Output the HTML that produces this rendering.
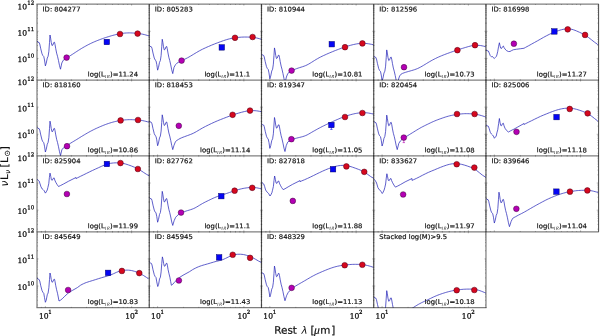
<!DOCTYPE html>
<html lang="en"><head><meta charset="utf-8"><title>SED fits</title>
<style>
html,body{margin:0;padding:0;background:#fff;}
body{width:600px;height:336px;overflow:hidden;}
svg{display:block;will-change:transform;}
text{text-rendering:geometricPrecision;}
.s{font-family:"DejaVu Sans","Liberation Sans",sans-serif;fill:#111;stroke:#111;stroke-width:.2;}
.t{font-size:6.85px;}
.sb{font-size:4.9px;stroke-width:0;letter-spacing:.3px;fill:#333;}
.k{font-family:"DejaVu Serif","Liberation Serif",serif;font-size:7.3px;fill:#111;stroke:#111;stroke-width:.26;}
.ks{font-size:5.3px;}
.i{font-family:"Liberation Serif","DejaVu Serif",serif;font-style:italic;}
.ax{font-size:10.4px;}
.j{font-family:"DejaVu Sans","Liberation Sans",sans-serif;font-style:italic;stroke-width:0;}
.fr{fill:none;stroke:#000;stroke-width:1.25;stroke-opacity:.5;}
.fv{stroke-width:1.15;stroke-opacity:.7;}
.tk{stroke:#000;stroke-width:.55;stroke-opacity:.5;fill:none;}
.cv{fill:none;stroke:#2828b8;stroke-width:.8;stroke-opacity:.93;stroke-linejoin:round;}
.mm{fill:#b400b4;stroke:#30002c;stroke-width:.45;}
.mr{fill:#d6081e;stroke:#4a0018;stroke-width:.5;}
.mb{fill:#0505f5;stroke:#000060;stroke-width:.45;}
.em{stroke:#b400b4;stroke-width:.6;fill:none;}
.eb{stroke:#0505f5;stroke-width:.6;fill:none;}
</style></head><body>
<svg width="600" height="336" viewBox="0 0 600 336">
<rect x="0" y="0" width="600" height="336" fill="#fff"/>
<defs>
<clipPath id="c00"><rect x="37" y="4.15" width="112.24" height="75.88"/></clipPath>
<clipPath id="c01"><rect x="149.24" y="4.15" width="112.24" height="75.88"/></clipPath>
<clipPath id="c02"><rect x="261.48" y="4.15" width="112.24" height="75.88"/></clipPath>
<clipPath id="c03"><rect x="373.72" y="4.15" width="112.24" height="75.88"/></clipPath>
<clipPath id="c04"><rect x="485.96" y="4.15" width="112.24" height="75.88"/></clipPath>
<clipPath id="c10"><rect x="37" y="80.03" width="112.24" height="75.88"/></clipPath>
<clipPath id="c11"><rect x="149.24" y="80.03" width="112.24" height="75.88"/></clipPath>
<clipPath id="c12"><rect x="261.48" y="80.03" width="112.24" height="75.88"/></clipPath>
<clipPath id="c13"><rect x="373.72" y="80.03" width="112.24" height="75.88"/></clipPath>
<clipPath id="c14"><rect x="485.96" y="80.03" width="112.24" height="75.88"/></clipPath>
<clipPath id="c20"><rect x="37" y="155.9" width="112.24" height="75.88"/></clipPath>
<clipPath id="c21"><rect x="149.24" y="155.9" width="112.24" height="75.88"/></clipPath>
<clipPath id="c22"><rect x="261.48" y="155.9" width="112.24" height="75.88"/></clipPath>
<clipPath id="c23"><rect x="373.72" y="155.9" width="112.24" height="75.88"/></clipPath>
<clipPath id="c24"><rect x="485.96" y="155.9" width="112.24" height="75.88"/></clipPath>
<clipPath id="c30"><rect x="37" y="231.78" width="112.24" height="75.88"/></clipPath>
<clipPath id="c31"><rect x="149.24" y="231.78" width="112.24" height="75.88"/></clipPath>
<clipPath id="c32"><rect x="261.48" y="231.78" width="112.24" height="75.88"/></clipPath>
<clipPath id="c33"><rect x="373.72" y="231.78" width="112.24" height="75.88"/></clipPath>
</defs>
<path class="tk" d="M45.36 4.15v1.5 M45.36 80.03v-1.5 M131.63 4.15v1.5 M131.63 80.03v-1.5 M37 4.15v0.8 M37 80.03v-0.8 M41.41 4.15v0.8 M41.41 80.03v-0.8 M71.33 4.15v0.8 M71.33 80.03v-0.8 M86.52 4.15v0.8 M86.52 80.03v-0.8 M97.3 4.15v0.8 M97.3 80.03v-0.8 M105.66 4.15v0.8 M105.66 80.03v-0.8 M112.49 4.15v0.8 M112.49 80.03v-0.8 M118.27 4.15v0.8 M118.27 80.03v-0.8 M123.27 4.15v0.8 M123.27 80.03v-0.8 M127.68 4.15v0.8 M127.68 80.03v-0.8 M37 58.43h1.5 M149.24 58.43h-1.5 M37 31.29h1.5 M149.24 31.29h-1.5 M37 77.4h0.8 M149.24 77.4h-0.8 M37 72.62h0.8 M149.24 72.62h-0.8 M37 69.23h0.8 M149.24 69.23h-0.8 M37 66.6h0.8 M149.24 66.6h-0.8 M37 64.45h0.8 M149.24 64.45h-0.8 M37 62.63h0.8 M149.24 62.63h-0.8 M37 61.06h0.8 M149.24 61.06h-0.8 M37 59.67h0.8 M149.24 59.67h-0.8 M37 50.26h0.8 M149.24 50.26h-0.8 M37 45.48h0.8 M149.24 45.48h-0.8 M37 42.09h0.8 M149.24 42.09h-0.8 M37 39.46h0.8 M149.24 39.46h-0.8 M37 37.31h0.8 M149.24 37.31h-0.8 M37 35.49h0.8 M149.24 35.49h-0.8 M37 33.92h0.8 M149.24 33.92h-0.8 M37 32.53h0.8 M149.24 32.53h-0.8 M37 23.12h0.8 M149.24 23.12h-0.8 M37 18.34h0.8 M149.24 18.34h-0.8 M37 14.95h0.8 M149.24 14.95h-0.8 M37 12.32h0.8 M149.24 12.32h-0.8 M37 10.17h0.8 M149.24 10.17h-0.8 M37 8.35h0.8 M149.24 8.35h-0.8 M37 6.78h0.8 M149.24 6.78h-0.8 M37 5.39h0.8 M149.24 5.39h-0.8"/>
<path class="tk" d="M157.6 4.15v1.5 M157.6 80.03v-1.5 M243.87 4.15v1.5 M243.87 80.03v-1.5 M149.24 4.15v0.8 M149.24 80.03v-0.8 M153.65 4.15v0.8 M153.65 80.03v-0.8 M183.57 4.15v0.8 M183.57 80.03v-0.8 M198.76 4.15v0.8 M198.76 80.03v-0.8 M209.54 4.15v0.8 M209.54 80.03v-0.8 M217.9 4.15v0.8 M217.9 80.03v-0.8 M224.73 4.15v0.8 M224.73 80.03v-0.8 M230.51 4.15v0.8 M230.51 80.03v-0.8 M235.51 4.15v0.8 M235.51 80.03v-0.8 M239.92 4.15v0.8 M239.92 80.03v-0.8 M149.24 58.43h1.5 M261.48 58.43h-1.5 M149.24 31.29h1.5 M261.48 31.29h-1.5 M149.24 77.4h0.8 M261.48 77.4h-0.8 M149.24 72.62h0.8 M261.48 72.62h-0.8 M149.24 69.23h0.8 M261.48 69.23h-0.8 M149.24 66.6h0.8 M261.48 66.6h-0.8 M149.24 64.45h0.8 M261.48 64.45h-0.8 M149.24 62.63h0.8 M261.48 62.63h-0.8 M149.24 61.06h0.8 M261.48 61.06h-0.8 M149.24 59.67h0.8 M261.48 59.67h-0.8 M149.24 50.26h0.8 M261.48 50.26h-0.8 M149.24 45.48h0.8 M261.48 45.48h-0.8 M149.24 42.09h0.8 M261.48 42.09h-0.8 M149.24 39.46h0.8 M261.48 39.46h-0.8 M149.24 37.31h0.8 M261.48 37.31h-0.8 M149.24 35.49h0.8 M261.48 35.49h-0.8 M149.24 33.92h0.8 M261.48 33.92h-0.8 M149.24 32.53h0.8 M261.48 32.53h-0.8 M149.24 23.12h0.8 M261.48 23.12h-0.8 M149.24 18.34h0.8 M261.48 18.34h-0.8 M149.24 14.95h0.8 M261.48 14.95h-0.8 M149.24 12.32h0.8 M261.48 12.32h-0.8 M149.24 10.17h0.8 M261.48 10.17h-0.8 M149.24 8.35h0.8 M261.48 8.35h-0.8 M149.24 6.78h0.8 M261.48 6.78h-0.8 M149.24 5.39h0.8 M261.48 5.39h-0.8"/>
<path class="tk" d="M269.84 4.15v1.5 M269.84 80.03v-1.5 M356.11 4.15v1.5 M356.11 80.03v-1.5 M261.48 4.15v0.8 M261.48 80.03v-0.8 M265.89 4.15v0.8 M265.89 80.03v-0.8 M295.81 4.15v0.8 M295.81 80.03v-0.8 M311 4.15v0.8 M311 80.03v-0.8 M321.78 4.15v0.8 M321.78 80.03v-0.8 M330.14 4.15v0.8 M330.14 80.03v-0.8 M336.97 4.15v0.8 M336.97 80.03v-0.8 M342.75 4.15v0.8 M342.75 80.03v-0.8 M347.75 4.15v0.8 M347.75 80.03v-0.8 M352.16 4.15v0.8 M352.16 80.03v-0.8 M261.48 58.43h1.5 M373.72 58.43h-1.5 M261.48 31.29h1.5 M373.72 31.29h-1.5 M261.48 77.4h0.8 M373.72 77.4h-0.8 M261.48 72.62h0.8 M373.72 72.62h-0.8 M261.48 69.23h0.8 M373.72 69.23h-0.8 M261.48 66.6h0.8 M373.72 66.6h-0.8 M261.48 64.45h0.8 M373.72 64.45h-0.8 M261.48 62.63h0.8 M373.72 62.63h-0.8 M261.48 61.06h0.8 M373.72 61.06h-0.8 M261.48 59.67h0.8 M373.72 59.67h-0.8 M261.48 50.26h0.8 M373.72 50.26h-0.8 M261.48 45.48h0.8 M373.72 45.48h-0.8 M261.48 42.09h0.8 M373.72 42.09h-0.8 M261.48 39.46h0.8 M373.72 39.46h-0.8 M261.48 37.31h0.8 M373.72 37.31h-0.8 M261.48 35.49h0.8 M373.72 35.49h-0.8 M261.48 33.92h0.8 M373.72 33.92h-0.8 M261.48 32.53h0.8 M373.72 32.53h-0.8 M261.48 23.12h0.8 M373.72 23.12h-0.8 M261.48 18.34h0.8 M373.72 18.34h-0.8 M261.48 14.95h0.8 M373.72 14.95h-0.8 M261.48 12.32h0.8 M373.72 12.32h-0.8 M261.48 10.17h0.8 M373.72 10.17h-0.8 M261.48 8.35h0.8 M373.72 8.35h-0.8 M261.48 6.78h0.8 M373.72 6.78h-0.8 M261.48 5.39h0.8 M373.72 5.39h-0.8"/>
<path class="tk" d="M382.08 4.15v1.5 M382.08 80.03v-1.5 M468.35 4.15v1.5 M468.35 80.03v-1.5 M373.72 4.15v0.8 M373.72 80.03v-0.8 M378.13 4.15v0.8 M378.13 80.03v-0.8 M408.05 4.15v0.8 M408.05 80.03v-0.8 M423.24 4.15v0.8 M423.24 80.03v-0.8 M434.02 4.15v0.8 M434.02 80.03v-0.8 M442.38 4.15v0.8 M442.38 80.03v-0.8 M449.21 4.15v0.8 M449.21 80.03v-0.8 M454.99 4.15v0.8 M454.99 80.03v-0.8 M459.99 4.15v0.8 M459.99 80.03v-0.8 M464.4 4.15v0.8 M464.4 80.03v-0.8 M373.72 58.43h1.5 M485.96 58.43h-1.5 M373.72 31.29h1.5 M485.96 31.29h-1.5 M373.72 77.4h0.8 M485.96 77.4h-0.8 M373.72 72.62h0.8 M485.96 72.62h-0.8 M373.72 69.23h0.8 M485.96 69.23h-0.8 M373.72 66.6h0.8 M485.96 66.6h-0.8 M373.72 64.45h0.8 M485.96 64.45h-0.8 M373.72 62.63h0.8 M485.96 62.63h-0.8 M373.72 61.06h0.8 M485.96 61.06h-0.8 M373.72 59.67h0.8 M485.96 59.67h-0.8 M373.72 50.26h0.8 M485.96 50.26h-0.8 M373.72 45.48h0.8 M485.96 45.48h-0.8 M373.72 42.09h0.8 M485.96 42.09h-0.8 M373.72 39.46h0.8 M485.96 39.46h-0.8 M373.72 37.31h0.8 M485.96 37.31h-0.8 M373.72 35.49h0.8 M485.96 35.49h-0.8 M373.72 33.92h0.8 M485.96 33.92h-0.8 M373.72 32.53h0.8 M485.96 32.53h-0.8 M373.72 23.12h0.8 M485.96 23.12h-0.8 M373.72 18.34h0.8 M485.96 18.34h-0.8 M373.72 14.95h0.8 M485.96 14.95h-0.8 M373.72 12.32h0.8 M485.96 12.32h-0.8 M373.72 10.17h0.8 M485.96 10.17h-0.8 M373.72 8.35h0.8 M485.96 8.35h-0.8 M373.72 6.78h0.8 M485.96 6.78h-0.8 M373.72 5.39h0.8 M485.96 5.39h-0.8"/>
<path class="tk" d="M494.32 4.15v1.5 M494.32 80.03v-1.5 M580.59 4.15v1.5 M580.59 80.03v-1.5 M485.96 4.15v0.8 M485.96 80.03v-0.8 M490.37 4.15v0.8 M490.37 80.03v-0.8 M520.29 4.15v0.8 M520.29 80.03v-0.8 M535.48 4.15v0.8 M535.48 80.03v-0.8 M546.26 4.15v0.8 M546.26 80.03v-0.8 M554.62 4.15v0.8 M554.62 80.03v-0.8 M561.45 4.15v0.8 M561.45 80.03v-0.8 M567.23 4.15v0.8 M567.23 80.03v-0.8 M572.23 4.15v0.8 M572.23 80.03v-0.8 M576.64 4.15v0.8 M576.64 80.03v-0.8 M485.96 58.43h1.5 M598.2 58.43h-1.5 M485.96 31.29h1.5 M598.2 31.29h-1.5 M485.96 77.4h0.8 M598.2 77.4h-0.8 M485.96 72.62h0.8 M598.2 72.62h-0.8 M485.96 69.23h0.8 M598.2 69.23h-0.8 M485.96 66.6h0.8 M598.2 66.6h-0.8 M485.96 64.45h0.8 M598.2 64.45h-0.8 M485.96 62.63h0.8 M598.2 62.63h-0.8 M485.96 61.06h0.8 M598.2 61.06h-0.8 M485.96 59.67h0.8 M598.2 59.67h-0.8 M485.96 50.26h0.8 M598.2 50.26h-0.8 M485.96 45.48h0.8 M598.2 45.48h-0.8 M485.96 42.09h0.8 M598.2 42.09h-0.8 M485.96 39.46h0.8 M598.2 39.46h-0.8 M485.96 37.31h0.8 M598.2 37.31h-0.8 M485.96 35.49h0.8 M598.2 35.49h-0.8 M485.96 33.92h0.8 M598.2 33.92h-0.8 M485.96 32.53h0.8 M598.2 32.53h-0.8 M485.96 23.12h0.8 M598.2 23.12h-0.8 M485.96 18.34h0.8 M598.2 18.34h-0.8 M485.96 14.95h0.8 M598.2 14.95h-0.8 M485.96 12.32h0.8 M598.2 12.32h-0.8 M485.96 10.17h0.8 M598.2 10.17h-0.8 M485.96 8.35h0.8 M598.2 8.35h-0.8 M485.96 6.78h0.8 M598.2 6.78h-0.8 M485.96 5.39h0.8 M598.2 5.39h-0.8"/>
<path class="tk" d="M45.36 80.03v1.5 M45.36 155.9v-1.5 M131.63 80.03v1.5 M131.63 155.9v-1.5 M37 80.03v0.8 M37 155.9v-0.8 M41.41 80.03v0.8 M41.41 155.9v-0.8 M71.33 80.03v0.8 M71.33 155.9v-0.8 M86.52 80.03v0.8 M86.52 155.9v-0.8 M97.3 80.03v0.8 M97.3 155.9v-0.8 M105.66 80.03v0.8 M105.66 155.9v-0.8 M112.49 80.03v0.8 M112.49 155.9v-0.8 M118.27 80.03v0.8 M118.27 155.9v-0.8 M123.27 80.03v0.8 M123.27 155.9v-0.8 M127.68 80.03v0.8 M127.68 155.9v-0.8 M37 134.3h1.5 M149.24 134.3h-1.5 M37 107.16h1.5 M149.24 107.16h-1.5 M37 153.27h0.8 M149.24 153.27h-0.8 M37 148.49h0.8 M149.24 148.49h-0.8 M37 145.1h0.8 M149.24 145.1h-0.8 M37 142.47h0.8 M149.24 142.47h-0.8 M37 140.32h0.8 M149.24 140.32h-0.8 M37 138.51h0.8 M149.24 138.51h-0.8 M37 136.93h0.8 M149.24 136.93h-0.8 M37 135.54h0.8 M149.24 135.54h-0.8 M37 126.13h0.8 M149.24 126.13h-0.8 M37 121.35h0.8 M149.24 121.35h-0.8 M37 117.96h0.8 M149.24 117.96h-0.8 M37 115.33h0.8 M149.24 115.33h-0.8 M37 113.18h0.8 M149.24 113.18h-0.8 M37 111.37h0.8 M149.24 111.37h-0.8 M37 109.79h0.8 M149.24 109.79h-0.8 M37 108.4h0.8 M149.24 108.4h-0.8 M37 98.99h0.8 M149.24 98.99h-0.8 M37 94.21h0.8 M149.24 94.21h-0.8 M37 90.82h0.8 M149.24 90.82h-0.8 M37 88.19h0.8 M149.24 88.19h-0.8 M37 86.05h0.8 M149.24 86.05h-0.8 M37 84.23h0.8 M149.24 84.23h-0.8 M37 82.65h0.8 M149.24 82.65h-0.8 M37 81.27h0.8 M149.24 81.27h-0.8"/>
<path class="tk" d="M157.6 80.03v1.5 M157.6 155.9v-1.5 M243.87 80.03v1.5 M243.87 155.9v-1.5 M149.24 80.03v0.8 M149.24 155.9v-0.8 M153.65 80.03v0.8 M153.65 155.9v-0.8 M183.57 80.03v0.8 M183.57 155.9v-0.8 M198.76 80.03v0.8 M198.76 155.9v-0.8 M209.54 80.03v0.8 M209.54 155.9v-0.8 M217.9 80.03v0.8 M217.9 155.9v-0.8 M224.73 80.03v0.8 M224.73 155.9v-0.8 M230.51 80.03v0.8 M230.51 155.9v-0.8 M235.51 80.03v0.8 M235.51 155.9v-0.8 M239.92 80.03v0.8 M239.92 155.9v-0.8 M149.24 134.3h1.5 M261.48 134.3h-1.5 M149.24 107.16h1.5 M261.48 107.16h-1.5 M149.24 153.27h0.8 M261.48 153.27h-0.8 M149.24 148.49h0.8 M261.48 148.49h-0.8 M149.24 145.1h0.8 M261.48 145.1h-0.8 M149.24 142.47h0.8 M261.48 142.47h-0.8 M149.24 140.32h0.8 M261.48 140.32h-0.8 M149.24 138.51h0.8 M261.48 138.51h-0.8 M149.24 136.93h0.8 M261.48 136.93h-0.8 M149.24 135.54h0.8 M261.48 135.54h-0.8 M149.24 126.13h0.8 M261.48 126.13h-0.8 M149.24 121.35h0.8 M261.48 121.35h-0.8 M149.24 117.96h0.8 M261.48 117.96h-0.8 M149.24 115.33h0.8 M261.48 115.33h-0.8 M149.24 113.18h0.8 M261.48 113.18h-0.8 M149.24 111.37h0.8 M261.48 111.37h-0.8 M149.24 109.79h0.8 M261.48 109.79h-0.8 M149.24 108.4h0.8 M261.48 108.4h-0.8 M149.24 98.99h0.8 M261.48 98.99h-0.8 M149.24 94.21h0.8 M261.48 94.21h-0.8 M149.24 90.82h0.8 M261.48 90.82h-0.8 M149.24 88.19h0.8 M261.48 88.19h-0.8 M149.24 86.05h0.8 M261.48 86.05h-0.8 M149.24 84.23h0.8 M261.48 84.23h-0.8 M149.24 82.65h0.8 M261.48 82.65h-0.8 M149.24 81.27h0.8 M261.48 81.27h-0.8"/>
<path class="tk" d="M269.84 80.03v1.5 M269.84 155.9v-1.5 M356.11 80.03v1.5 M356.11 155.9v-1.5 M261.48 80.03v0.8 M261.48 155.9v-0.8 M265.89 80.03v0.8 M265.89 155.9v-0.8 M295.81 80.03v0.8 M295.81 155.9v-0.8 M311 80.03v0.8 M311 155.9v-0.8 M321.78 80.03v0.8 M321.78 155.9v-0.8 M330.14 80.03v0.8 M330.14 155.9v-0.8 M336.97 80.03v0.8 M336.97 155.9v-0.8 M342.75 80.03v0.8 M342.75 155.9v-0.8 M347.75 80.03v0.8 M347.75 155.9v-0.8 M352.16 80.03v0.8 M352.16 155.9v-0.8 M261.48 134.3h1.5 M373.72 134.3h-1.5 M261.48 107.16h1.5 M373.72 107.16h-1.5 M261.48 153.27h0.8 M373.72 153.27h-0.8 M261.48 148.49h0.8 M373.72 148.49h-0.8 M261.48 145.1h0.8 M373.72 145.1h-0.8 M261.48 142.47h0.8 M373.72 142.47h-0.8 M261.48 140.32h0.8 M373.72 140.32h-0.8 M261.48 138.51h0.8 M373.72 138.51h-0.8 M261.48 136.93h0.8 M373.72 136.93h-0.8 M261.48 135.54h0.8 M373.72 135.54h-0.8 M261.48 126.13h0.8 M373.72 126.13h-0.8 M261.48 121.35h0.8 M373.72 121.35h-0.8 M261.48 117.96h0.8 M373.72 117.96h-0.8 M261.48 115.33h0.8 M373.72 115.33h-0.8 M261.48 113.18h0.8 M373.72 113.18h-0.8 M261.48 111.37h0.8 M373.72 111.37h-0.8 M261.48 109.79h0.8 M373.72 109.79h-0.8 M261.48 108.4h0.8 M373.72 108.4h-0.8 M261.48 98.99h0.8 M373.72 98.99h-0.8 M261.48 94.21h0.8 M373.72 94.21h-0.8 M261.48 90.82h0.8 M373.72 90.82h-0.8 M261.48 88.19h0.8 M373.72 88.19h-0.8 M261.48 86.05h0.8 M373.72 86.05h-0.8 M261.48 84.23h0.8 M373.72 84.23h-0.8 M261.48 82.65h0.8 M373.72 82.65h-0.8 M261.48 81.27h0.8 M373.72 81.27h-0.8"/>
<path class="tk" d="M382.08 80.03v1.5 M382.08 155.9v-1.5 M468.35 80.03v1.5 M468.35 155.9v-1.5 M373.72 80.03v0.8 M373.72 155.9v-0.8 M378.13 80.03v0.8 M378.13 155.9v-0.8 M408.05 80.03v0.8 M408.05 155.9v-0.8 M423.24 80.03v0.8 M423.24 155.9v-0.8 M434.02 80.03v0.8 M434.02 155.9v-0.8 M442.38 80.03v0.8 M442.38 155.9v-0.8 M449.21 80.03v0.8 M449.21 155.9v-0.8 M454.99 80.03v0.8 M454.99 155.9v-0.8 M459.99 80.03v0.8 M459.99 155.9v-0.8 M464.4 80.03v0.8 M464.4 155.9v-0.8 M373.72 134.3h1.5 M485.96 134.3h-1.5 M373.72 107.16h1.5 M485.96 107.16h-1.5 M373.72 153.27h0.8 M485.96 153.27h-0.8 M373.72 148.49h0.8 M485.96 148.49h-0.8 M373.72 145.1h0.8 M485.96 145.1h-0.8 M373.72 142.47h0.8 M485.96 142.47h-0.8 M373.72 140.32h0.8 M485.96 140.32h-0.8 M373.72 138.51h0.8 M485.96 138.51h-0.8 M373.72 136.93h0.8 M485.96 136.93h-0.8 M373.72 135.54h0.8 M485.96 135.54h-0.8 M373.72 126.13h0.8 M485.96 126.13h-0.8 M373.72 121.35h0.8 M485.96 121.35h-0.8 M373.72 117.96h0.8 M485.96 117.96h-0.8 M373.72 115.33h0.8 M485.96 115.33h-0.8 M373.72 113.18h0.8 M485.96 113.18h-0.8 M373.72 111.37h0.8 M485.96 111.37h-0.8 M373.72 109.79h0.8 M485.96 109.79h-0.8 M373.72 108.4h0.8 M485.96 108.4h-0.8 M373.72 98.99h0.8 M485.96 98.99h-0.8 M373.72 94.21h0.8 M485.96 94.21h-0.8 M373.72 90.82h0.8 M485.96 90.82h-0.8 M373.72 88.19h0.8 M485.96 88.19h-0.8 M373.72 86.05h0.8 M485.96 86.05h-0.8 M373.72 84.23h0.8 M485.96 84.23h-0.8 M373.72 82.65h0.8 M485.96 82.65h-0.8 M373.72 81.27h0.8 M485.96 81.27h-0.8"/>
<path class="tk" d="M494.32 80.03v1.5 M494.32 155.9v-1.5 M580.59 80.03v1.5 M580.59 155.9v-1.5 M485.96 80.03v0.8 M485.96 155.9v-0.8 M490.37 80.03v0.8 M490.37 155.9v-0.8 M520.29 80.03v0.8 M520.29 155.9v-0.8 M535.48 80.03v0.8 M535.48 155.9v-0.8 M546.26 80.03v0.8 M546.26 155.9v-0.8 M554.62 80.03v0.8 M554.62 155.9v-0.8 M561.45 80.03v0.8 M561.45 155.9v-0.8 M567.23 80.03v0.8 M567.23 155.9v-0.8 M572.23 80.03v0.8 M572.23 155.9v-0.8 M576.64 80.03v0.8 M576.64 155.9v-0.8 M485.96 134.3h1.5 M598.2 134.3h-1.5 M485.96 107.16h1.5 M598.2 107.16h-1.5 M485.96 153.27h0.8 M598.2 153.27h-0.8 M485.96 148.49h0.8 M598.2 148.49h-0.8 M485.96 145.1h0.8 M598.2 145.1h-0.8 M485.96 142.47h0.8 M598.2 142.47h-0.8 M485.96 140.32h0.8 M598.2 140.32h-0.8 M485.96 138.51h0.8 M598.2 138.51h-0.8 M485.96 136.93h0.8 M598.2 136.93h-0.8 M485.96 135.54h0.8 M598.2 135.54h-0.8 M485.96 126.13h0.8 M598.2 126.13h-0.8 M485.96 121.35h0.8 M598.2 121.35h-0.8 M485.96 117.96h0.8 M598.2 117.96h-0.8 M485.96 115.33h0.8 M598.2 115.33h-0.8 M485.96 113.18h0.8 M598.2 113.18h-0.8 M485.96 111.37h0.8 M598.2 111.37h-0.8 M485.96 109.79h0.8 M598.2 109.79h-0.8 M485.96 108.4h0.8 M598.2 108.4h-0.8 M485.96 98.99h0.8 M598.2 98.99h-0.8 M485.96 94.21h0.8 M598.2 94.21h-0.8 M485.96 90.82h0.8 M598.2 90.82h-0.8 M485.96 88.19h0.8 M598.2 88.19h-0.8 M485.96 86.05h0.8 M598.2 86.05h-0.8 M485.96 84.23h0.8 M598.2 84.23h-0.8 M485.96 82.65h0.8 M598.2 82.65h-0.8 M485.96 81.27h0.8 M598.2 81.27h-0.8"/>
<path class="tk" d="M45.36 155.9v1.5 M45.36 231.78v-1.5 M131.63 155.9v1.5 M131.63 231.78v-1.5 M37 155.9v0.8 M37 231.78v-0.8 M41.41 155.9v0.8 M41.41 231.78v-0.8 M71.33 155.9v0.8 M71.33 231.78v-0.8 M86.52 155.9v0.8 M86.52 231.78v-0.8 M97.3 155.9v0.8 M97.3 231.78v-0.8 M105.66 155.9v0.8 M105.66 231.78v-0.8 M112.49 155.9v0.8 M112.49 231.78v-0.8 M118.27 155.9v0.8 M118.27 231.78v-0.8 M123.27 155.9v0.8 M123.27 231.78v-0.8 M127.68 155.9v0.8 M127.68 231.78v-0.8 M37 210.18h1.5 M149.24 210.18h-1.5 M37 183.04h1.5 M149.24 183.04h-1.5 M37 229.15h0.8 M149.24 229.15h-0.8 M37 224.37h0.8 M149.24 224.37h-0.8 M37 220.98h0.8 M149.24 220.98h-0.8 M37 218.35h0.8 M149.24 218.35h-0.8 M37 216.2h0.8 M149.24 216.2h-0.8 M37 214.38h0.8 M149.24 214.38h-0.8 M37 212.81h0.8 M149.24 212.81h-0.8 M37 211.42h0.8 M149.24 211.42h-0.8 M37 202.01h0.8 M149.24 202.01h-0.8 M37 197.23h0.8 M149.24 197.23h-0.8 M37 193.84h0.8 M149.24 193.84h-0.8 M37 191.21h0.8 M149.24 191.21h-0.8 M37 189.06h0.8 M149.24 189.06h-0.8 M37 187.24h0.8 M149.24 187.24h-0.8 M37 185.67h0.8 M149.24 185.67h-0.8 M37 184.28h0.8 M149.24 184.28h-0.8 M37 174.87h0.8 M149.24 174.87h-0.8 M37 170.09h0.8 M149.24 170.09h-0.8 M37 166.7h0.8 M149.24 166.7h-0.8 M37 164.07h0.8 M149.24 164.07h-0.8 M37 161.92h0.8 M149.24 161.92h-0.8 M37 160.1h0.8 M149.24 160.1h-0.8 M37 158.53h0.8 M149.24 158.53h-0.8 M37 157.14h0.8 M149.24 157.14h-0.8"/>
<path class="tk" d="M157.6 155.9v1.5 M157.6 231.78v-1.5 M243.87 155.9v1.5 M243.87 231.78v-1.5 M149.24 155.9v0.8 M149.24 231.78v-0.8 M153.65 155.9v0.8 M153.65 231.78v-0.8 M183.57 155.9v0.8 M183.57 231.78v-0.8 M198.76 155.9v0.8 M198.76 231.78v-0.8 M209.54 155.9v0.8 M209.54 231.78v-0.8 M217.9 155.9v0.8 M217.9 231.78v-0.8 M224.73 155.9v0.8 M224.73 231.78v-0.8 M230.51 155.9v0.8 M230.51 231.78v-0.8 M235.51 155.9v0.8 M235.51 231.78v-0.8 M239.92 155.9v0.8 M239.92 231.78v-0.8 M149.24 210.18h1.5 M261.48 210.18h-1.5 M149.24 183.04h1.5 M261.48 183.04h-1.5 M149.24 229.15h0.8 M261.48 229.15h-0.8 M149.24 224.37h0.8 M261.48 224.37h-0.8 M149.24 220.98h0.8 M261.48 220.98h-0.8 M149.24 218.35h0.8 M261.48 218.35h-0.8 M149.24 216.2h0.8 M261.48 216.2h-0.8 M149.24 214.38h0.8 M261.48 214.38h-0.8 M149.24 212.81h0.8 M261.48 212.81h-0.8 M149.24 211.42h0.8 M261.48 211.42h-0.8 M149.24 202.01h0.8 M261.48 202.01h-0.8 M149.24 197.23h0.8 M261.48 197.23h-0.8 M149.24 193.84h0.8 M261.48 193.84h-0.8 M149.24 191.21h0.8 M261.48 191.21h-0.8 M149.24 189.06h0.8 M261.48 189.06h-0.8 M149.24 187.24h0.8 M261.48 187.24h-0.8 M149.24 185.67h0.8 M261.48 185.67h-0.8 M149.24 184.28h0.8 M261.48 184.28h-0.8 M149.24 174.87h0.8 M261.48 174.87h-0.8 M149.24 170.09h0.8 M261.48 170.09h-0.8 M149.24 166.7h0.8 M261.48 166.7h-0.8 M149.24 164.07h0.8 M261.48 164.07h-0.8 M149.24 161.92h0.8 M261.48 161.92h-0.8 M149.24 160.1h0.8 M261.48 160.1h-0.8 M149.24 158.53h0.8 M261.48 158.53h-0.8 M149.24 157.14h0.8 M261.48 157.14h-0.8"/>
<path class="tk" d="M269.84 155.9v1.5 M269.84 231.78v-1.5 M356.11 155.9v1.5 M356.11 231.78v-1.5 M261.48 155.9v0.8 M261.48 231.78v-0.8 M265.89 155.9v0.8 M265.89 231.78v-0.8 M295.81 155.9v0.8 M295.81 231.78v-0.8 M311 155.9v0.8 M311 231.78v-0.8 M321.78 155.9v0.8 M321.78 231.78v-0.8 M330.14 155.9v0.8 M330.14 231.78v-0.8 M336.97 155.9v0.8 M336.97 231.78v-0.8 M342.75 155.9v0.8 M342.75 231.78v-0.8 M347.75 155.9v0.8 M347.75 231.78v-0.8 M352.16 155.9v0.8 M352.16 231.78v-0.8 M261.48 210.18h1.5 M373.72 210.18h-1.5 M261.48 183.04h1.5 M373.72 183.04h-1.5 M261.48 229.15h0.8 M373.72 229.15h-0.8 M261.48 224.37h0.8 M373.72 224.37h-0.8 M261.48 220.98h0.8 M373.72 220.98h-0.8 M261.48 218.35h0.8 M373.72 218.35h-0.8 M261.48 216.2h0.8 M373.72 216.2h-0.8 M261.48 214.38h0.8 M373.72 214.38h-0.8 M261.48 212.81h0.8 M373.72 212.81h-0.8 M261.48 211.42h0.8 M373.72 211.42h-0.8 M261.48 202.01h0.8 M373.72 202.01h-0.8 M261.48 197.23h0.8 M373.72 197.23h-0.8 M261.48 193.84h0.8 M373.72 193.84h-0.8 M261.48 191.21h0.8 M373.72 191.21h-0.8 M261.48 189.06h0.8 M373.72 189.06h-0.8 M261.48 187.24h0.8 M373.72 187.24h-0.8 M261.48 185.67h0.8 M373.72 185.67h-0.8 M261.48 184.28h0.8 M373.72 184.28h-0.8 M261.48 174.87h0.8 M373.72 174.87h-0.8 M261.48 170.09h0.8 M373.72 170.09h-0.8 M261.48 166.7h0.8 M373.72 166.7h-0.8 M261.48 164.07h0.8 M373.72 164.07h-0.8 M261.48 161.92h0.8 M373.72 161.92h-0.8 M261.48 160.1h0.8 M373.72 160.1h-0.8 M261.48 158.53h0.8 M373.72 158.53h-0.8 M261.48 157.14h0.8 M373.72 157.14h-0.8"/>
<path class="tk" d="M382.08 155.9v1.5 M382.08 231.78v-1.5 M468.35 155.9v1.5 M468.35 231.78v-1.5 M373.72 155.9v0.8 M373.72 231.78v-0.8 M378.13 155.9v0.8 M378.13 231.78v-0.8 M408.05 155.9v0.8 M408.05 231.78v-0.8 M423.24 155.9v0.8 M423.24 231.78v-0.8 M434.02 155.9v0.8 M434.02 231.78v-0.8 M442.38 155.9v0.8 M442.38 231.78v-0.8 M449.21 155.9v0.8 M449.21 231.78v-0.8 M454.99 155.9v0.8 M454.99 231.78v-0.8 M459.99 155.9v0.8 M459.99 231.78v-0.8 M464.4 155.9v0.8 M464.4 231.78v-0.8 M373.72 210.18h1.5 M485.96 210.18h-1.5 M373.72 183.04h1.5 M485.96 183.04h-1.5 M373.72 229.15h0.8 M485.96 229.15h-0.8 M373.72 224.37h0.8 M485.96 224.37h-0.8 M373.72 220.98h0.8 M485.96 220.98h-0.8 M373.72 218.35h0.8 M485.96 218.35h-0.8 M373.72 216.2h0.8 M485.96 216.2h-0.8 M373.72 214.38h0.8 M485.96 214.38h-0.8 M373.72 212.81h0.8 M485.96 212.81h-0.8 M373.72 211.42h0.8 M485.96 211.42h-0.8 M373.72 202.01h0.8 M485.96 202.01h-0.8 M373.72 197.23h0.8 M485.96 197.23h-0.8 M373.72 193.84h0.8 M485.96 193.84h-0.8 M373.72 191.21h0.8 M485.96 191.21h-0.8 M373.72 189.06h0.8 M485.96 189.06h-0.8 M373.72 187.24h0.8 M485.96 187.24h-0.8 M373.72 185.67h0.8 M485.96 185.67h-0.8 M373.72 184.28h0.8 M485.96 184.28h-0.8 M373.72 174.87h0.8 M485.96 174.87h-0.8 M373.72 170.09h0.8 M485.96 170.09h-0.8 M373.72 166.7h0.8 M485.96 166.7h-0.8 M373.72 164.07h0.8 M485.96 164.07h-0.8 M373.72 161.92h0.8 M485.96 161.92h-0.8 M373.72 160.1h0.8 M485.96 160.1h-0.8 M373.72 158.53h0.8 M485.96 158.53h-0.8 M373.72 157.14h0.8 M485.96 157.14h-0.8"/>
<path class="tk" d="M494.32 155.9v1.5 M494.32 231.78v-1.5 M580.59 155.9v1.5 M580.59 231.78v-1.5 M485.96 155.9v0.8 M485.96 231.78v-0.8 M490.37 155.9v0.8 M490.37 231.78v-0.8 M520.29 155.9v0.8 M520.29 231.78v-0.8 M535.48 155.9v0.8 M535.48 231.78v-0.8 M546.26 155.9v0.8 M546.26 231.78v-0.8 M554.62 155.9v0.8 M554.62 231.78v-0.8 M561.45 155.9v0.8 M561.45 231.78v-0.8 M567.23 155.9v0.8 M567.23 231.78v-0.8 M572.23 155.9v0.8 M572.23 231.78v-0.8 M576.64 155.9v0.8 M576.64 231.78v-0.8 M485.96 210.18h1.5 M598.2 210.18h-1.5 M485.96 183.04h1.5 M598.2 183.04h-1.5 M485.96 229.15h0.8 M598.2 229.15h-0.8 M485.96 224.37h0.8 M598.2 224.37h-0.8 M485.96 220.98h0.8 M598.2 220.98h-0.8 M485.96 218.35h0.8 M598.2 218.35h-0.8 M485.96 216.2h0.8 M598.2 216.2h-0.8 M485.96 214.38h0.8 M598.2 214.38h-0.8 M485.96 212.81h0.8 M598.2 212.81h-0.8 M485.96 211.42h0.8 M598.2 211.42h-0.8 M485.96 202.01h0.8 M598.2 202.01h-0.8 M485.96 197.23h0.8 M598.2 197.23h-0.8 M485.96 193.84h0.8 M598.2 193.84h-0.8 M485.96 191.21h0.8 M598.2 191.21h-0.8 M485.96 189.06h0.8 M598.2 189.06h-0.8 M485.96 187.24h0.8 M598.2 187.24h-0.8 M485.96 185.67h0.8 M598.2 185.67h-0.8 M485.96 184.28h0.8 M598.2 184.28h-0.8 M485.96 174.87h0.8 M598.2 174.87h-0.8 M485.96 170.09h0.8 M598.2 170.09h-0.8 M485.96 166.7h0.8 M598.2 166.7h-0.8 M485.96 164.07h0.8 M598.2 164.07h-0.8 M485.96 161.92h0.8 M598.2 161.92h-0.8 M485.96 160.1h0.8 M598.2 160.1h-0.8 M485.96 158.53h0.8 M598.2 158.53h-0.8 M485.96 157.14h0.8 M598.2 157.14h-0.8"/>
<path class="tk" d="M45.36 231.78v1.5 M45.36 307.65v-1.5 M131.63 231.78v1.5 M131.63 307.65v-1.5 M37 231.78v0.8 M37 307.65v-0.8 M41.41 231.78v0.8 M41.41 307.65v-0.8 M71.33 231.78v0.8 M71.33 307.65v-0.8 M86.52 231.78v0.8 M86.52 307.65v-0.8 M97.3 231.78v0.8 M97.3 307.65v-0.8 M105.66 231.78v0.8 M105.66 307.65v-0.8 M112.49 231.78v0.8 M112.49 307.65v-0.8 M118.27 231.78v0.8 M118.27 307.65v-0.8 M123.27 231.78v0.8 M123.27 307.65v-0.8 M127.68 231.78v0.8 M127.68 307.65v-0.8 M37 286.05h1.5 M149.24 286.05h-1.5 M37 258.91h1.5 M149.24 258.91h-1.5 M37 305.02h0.8 M149.24 305.02h-0.8 M37 300.24h0.8 M149.24 300.24h-0.8 M37 296.85h0.8 M149.24 296.85h-0.8 M37 294.22h0.8 M149.24 294.22h-0.8 M37 292.07h0.8 M149.24 292.07h-0.8 M37 290.26h0.8 M149.24 290.26h-0.8 M37 288.68h0.8 M149.24 288.68h-0.8 M37 287.29h0.8 M149.24 287.29h-0.8 M37 277.88h0.8 M149.24 277.88h-0.8 M37 273.1h0.8 M149.24 273.1h-0.8 M37 269.71h0.8 M149.24 269.71h-0.8 M37 267.08h0.8 M149.24 267.08h-0.8 M37 264.93h0.8 M149.24 264.93h-0.8 M37 263.12h0.8 M149.24 263.12h-0.8 M37 261.54h0.8 M149.24 261.54h-0.8 M37 260.15h0.8 M149.24 260.15h-0.8 M37 250.74h0.8 M149.24 250.74h-0.8 M37 245.96h0.8 M149.24 245.96h-0.8 M37 242.57h0.8 M149.24 242.57h-0.8 M37 239.94h0.8 M149.24 239.94h-0.8 M37 237.8h0.8 M149.24 237.8h-0.8 M37 235.98h0.8 M149.24 235.98h-0.8 M37 234.4h0.8 M149.24 234.4h-0.8 M37 233.02h0.8 M149.24 233.02h-0.8"/>
<path class="tk" d="M157.6 231.78v1.5 M157.6 307.65v-1.5 M243.87 231.78v1.5 M243.87 307.65v-1.5 M149.24 231.78v0.8 M149.24 307.65v-0.8 M153.65 231.78v0.8 M153.65 307.65v-0.8 M183.57 231.78v0.8 M183.57 307.65v-0.8 M198.76 231.78v0.8 M198.76 307.65v-0.8 M209.54 231.78v0.8 M209.54 307.65v-0.8 M217.9 231.78v0.8 M217.9 307.65v-0.8 M224.73 231.78v0.8 M224.73 307.65v-0.8 M230.51 231.78v0.8 M230.51 307.65v-0.8 M235.51 231.78v0.8 M235.51 307.65v-0.8 M239.92 231.78v0.8 M239.92 307.65v-0.8 M149.24 286.05h1.5 M261.48 286.05h-1.5 M149.24 258.91h1.5 M261.48 258.91h-1.5 M149.24 305.02h0.8 M261.48 305.02h-0.8 M149.24 300.24h0.8 M261.48 300.24h-0.8 M149.24 296.85h0.8 M261.48 296.85h-0.8 M149.24 294.22h0.8 M261.48 294.22h-0.8 M149.24 292.07h0.8 M261.48 292.07h-0.8 M149.24 290.26h0.8 M261.48 290.26h-0.8 M149.24 288.68h0.8 M261.48 288.68h-0.8 M149.24 287.29h0.8 M261.48 287.29h-0.8 M149.24 277.88h0.8 M261.48 277.88h-0.8 M149.24 273.1h0.8 M261.48 273.1h-0.8 M149.24 269.71h0.8 M261.48 269.71h-0.8 M149.24 267.08h0.8 M261.48 267.08h-0.8 M149.24 264.93h0.8 M261.48 264.93h-0.8 M149.24 263.12h0.8 M261.48 263.12h-0.8 M149.24 261.54h0.8 M261.48 261.54h-0.8 M149.24 260.15h0.8 M261.48 260.15h-0.8 M149.24 250.74h0.8 M261.48 250.74h-0.8 M149.24 245.96h0.8 M261.48 245.96h-0.8 M149.24 242.57h0.8 M261.48 242.57h-0.8 M149.24 239.94h0.8 M261.48 239.94h-0.8 M149.24 237.8h0.8 M261.48 237.8h-0.8 M149.24 235.98h0.8 M261.48 235.98h-0.8 M149.24 234.4h0.8 M261.48 234.4h-0.8 M149.24 233.02h0.8 M261.48 233.02h-0.8"/>
<path class="tk" d="M269.84 231.78v1.5 M269.84 307.65v-1.5 M356.11 231.78v1.5 M356.11 307.65v-1.5 M261.48 231.78v0.8 M261.48 307.65v-0.8 M265.89 231.78v0.8 M265.89 307.65v-0.8 M295.81 231.78v0.8 M295.81 307.65v-0.8 M311 231.78v0.8 M311 307.65v-0.8 M321.78 231.78v0.8 M321.78 307.65v-0.8 M330.14 231.78v0.8 M330.14 307.65v-0.8 M336.97 231.78v0.8 M336.97 307.65v-0.8 M342.75 231.78v0.8 M342.75 307.65v-0.8 M347.75 231.78v0.8 M347.75 307.65v-0.8 M352.16 231.78v0.8 M352.16 307.65v-0.8 M261.48 286.05h1.5 M373.72 286.05h-1.5 M261.48 258.91h1.5 M373.72 258.91h-1.5 M261.48 305.02h0.8 M373.72 305.02h-0.8 M261.48 300.24h0.8 M373.72 300.24h-0.8 M261.48 296.85h0.8 M373.72 296.85h-0.8 M261.48 294.22h0.8 M373.72 294.22h-0.8 M261.48 292.07h0.8 M373.72 292.07h-0.8 M261.48 290.26h0.8 M373.72 290.26h-0.8 M261.48 288.68h0.8 M373.72 288.68h-0.8 M261.48 287.29h0.8 M373.72 287.29h-0.8 M261.48 277.88h0.8 M373.72 277.88h-0.8 M261.48 273.1h0.8 M373.72 273.1h-0.8 M261.48 269.71h0.8 M373.72 269.71h-0.8 M261.48 267.08h0.8 M373.72 267.08h-0.8 M261.48 264.93h0.8 M373.72 264.93h-0.8 M261.48 263.12h0.8 M373.72 263.12h-0.8 M261.48 261.54h0.8 M373.72 261.54h-0.8 M261.48 260.15h0.8 M373.72 260.15h-0.8 M261.48 250.74h0.8 M373.72 250.74h-0.8 M261.48 245.96h0.8 M373.72 245.96h-0.8 M261.48 242.57h0.8 M373.72 242.57h-0.8 M261.48 239.94h0.8 M373.72 239.94h-0.8 M261.48 237.8h0.8 M373.72 237.8h-0.8 M261.48 235.98h0.8 M373.72 235.98h-0.8 M261.48 234.4h0.8 M373.72 234.4h-0.8 M261.48 233.02h0.8 M373.72 233.02h-0.8"/>
<path class="tk" d="M382.08 231.78v1.5 M382.08 307.65v-1.5 M468.35 231.78v1.5 M468.35 307.65v-1.5 M373.72 231.78v0.8 M373.72 307.65v-0.8 M378.13 231.78v0.8 M378.13 307.65v-0.8 M408.05 231.78v0.8 M408.05 307.65v-0.8 M423.24 231.78v0.8 M423.24 307.65v-0.8 M434.02 231.78v0.8 M434.02 307.65v-0.8 M442.38 231.78v0.8 M442.38 307.65v-0.8 M449.21 231.78v0.8 M449.21 307.65v-0.8 M454.99 231.78v0.8 M454.99 307.65v-0.8 M459.99 231.78v0.8 M459.99 307.65v-0.8 M464.4 231.78v0.8 M464.4 307.65v-0.8 M373.72 286.05h1.5 M485.96 286.05h-1.5 M373.72 258.91h1.5 M485.96 258.91h-1.5 M373.72 305.02h0.8 M485.96 305.02h-0.8 M373.72 300.24h0.8 M485.96 300.24h-0.8 M373.72 296.85h0.8 M485.96 296.85h-0.8 M373.72 294.22h0.8 M485.96 294.22h-0.8 M373.72 292.07h0.8 M485.96 292.07h-0.8 M373.72 290.26h0.8 M485.96 290.26h-0.8 M373.72 288.68h0.8 M485.96 288.68h-0.8 M373.72 287.29h0.8 M485.96 287.29h-0.8 M373.72 277.88h0.8 M485.96 277.88h-0.8 M373.72 273.1h0.8 M485.96 273.1h-0.8 M373.72 269.71h0.8 M485.96 269.71h-0.8 M373.72 267.08h0.8 M485.96 267.08h-0.8 M373.72 264.93h0.8 M485.96 264.93h-0.8 M373.72 263.12h0.8 M485.96 263.12h-0.8 M373.72 261.54h0.8 M485.96 261.54h-0.8 M373.72 260.15h0.8 M485.96 260.15h-0.8 M373.72 250.74h0.8 M485.96 250.74h-0.8 M373.72 245.96h0.8 M485.96 245.96h-0.8 M373.72 242.57h0.8 M485.96 242.57h-0.8 M373.72 239.94h0.8 M485.96 239.94h-0.8 M373.72 237.8h0.8 M485.96 237.8h-0.8 M373.72 235.98h0.8 M485.96 235.98h-0.8 M373.72 234.4h0.8 M485.96 234.4h-0.8 M373.72 233.02h0.8 M485.96 233.02h-0.8"/>
<g clip-path="url(#c00)">
<path class="cv" d="M37 41 L37.88 42.12 L39.12 42.5 L39.75 44 L40.75 48.75 L42 53.75 L42.88 55.62 L43.75 56.5 L44.5 60 L45.38 65.88 L46.25 63.12 L47.25 58.12 L48.12 56.25 L48.88 51.25 L49.5 42.5 L50 35 L50.62 38.12 L51.25 42.5 L52 45.62 L52.88 45 L53.75 42.5 L54.5 42.25 L55 44.38 L55.75 48.75 L56.62 53.12 L57.5 56.25 L58.5 60.62 L59.5 65.62 L60.5 69.2 L61.8 63 L63.3 60.16 L64.8 58.89 L66.3 58.06 L67.8 57.19 L69.3 56.27 L70.8 55.35 L72.3 54.39 L73.8 53.41 L75.3 52.41 L76.8 51.43 L78.3 50.46 L79.8 49.52 L81.3 48.59 L82.8 47.7 L84.3 46.84 L85.8 46 L87.3 45.2 L88.8 44.42 L90.3 43.67 L91.8 42.95 L93.3 42.27 L94.8 41.61 L96.3 40.98 L97.8 40.38 L99.3 39.8 L100.8 39.24 L102.3 38.71 L103.8 38.19 L105.3 37.68 L106.8 37.19 L108.3 36.71 L109.8 36.25 L111.3 35.81 L112.8 35.39 L114.3 34.99 L115.8 34.61 L117.3 34.26 L118.8 33.94 L120.3 33.67 L121.8 33.44 L123.3 33.25 L124.8 33.09 L126.3 32.98 L127.8 32.91 L129.3 32.89 L130.8 32.91 L132.3 32.97 L133.8 33.07 L135.3 33.2 L136.8 33.35 L138.3 33.51 L139.8 33.71 L141.3 33.94 L142.8 34.23 L144.3 34.57 L145.8 34.97 L147.3 35.42 L148.8 35.88 L149.6 36.33"/>
</g>
<circle class="mm" cx="66.6" cy="57.6" r="2.85"/>
<rect class="mb" x="104.05" y="39.25" width="5.5" height="5.5"/>
<circle class="mr" cx="120" cy="34" r="2.85"/>
<circle class="mr" cx="137.6" cy="33.6" r="2.85"/>
<g clip-path="url(#c01)">
<path class="cv" d="M149.24 45.28 L150.12 46.41 L151.37 46.78 L151.99 48.28 L152.99 53.03 L154.24 58.03 L155.12 59.91 L155.99 60.78 L156.74 64.28 L157.62 70.16 L158.49 67.41 L159.49 62.41 L160.37 60.53 L161.12 55.53 L161.74 46.78 L162.24 39.28 L162.87 42.41 L163.49 46.78 L164.24 49.91 L165.12 49.28 L165.99 46.78 L166.74 46.53 L167.24 48.66 L167.99 53.03 L168.87 57.41 L169.74 60.53 L170.74 64.91 L171.74 69.91 L172.74 73.6 L174 67.4 L175.5 64.66 L177 63.14 L178.5 62.22 L180 61.43 L181.5 60.69 L183 59.99 L184.5 59.29 L186 58.57 L187.5 57.8 L189 56.99 L190.5 56.13 L192 55.24 L193.5 54.32 L195 53.41 L196.5 52.5 L198 51.62 L199.5 50.78 L201 49.98 L202.5 49.21 L204 48.49 L205.5 47.8 L207 47.12 L208.5 46.47 L210 45.83 L211.5 45.2 L213 44.58 L214.5 43.98 L216 43.39 L217.5 42.82 L219 42.26 L220.5 41.71 L222 41.18 L223.5 40.65 L225 40.14 L226.5 39.66 L228 39.22 L229.5 38.83 L231 38.5 L232.5 38.21 L234 37.97 L235.5 37.75 L237 37.56 L238.5 37.38 L240 37.24 L241.5 37.13 L243 37.07 L244.5 37.04 L246 37.04 L247.5 37.06 L249 37.1 L250.5 37.16 L252 37.26 L253.5 37.42 L255 37.64 L256.5 37.94 L258 38.31 L259.5 38.72 L261 39.13 L261.6 39.51"/>
</g>
<circle class="mm" cx="181.6" cy="60.6" r="2.85"/>
<rect class="mb" x="219.05" y="44.65" width="5.5" height="5.5"/>
<circle class="mr" cx="235" cy="37.8" r="2.85"/>
<circle class="mr" cx="252.6" cy="37" r="2.85"/>
<g clip-path="url(#c02)">
<path class="cv" d="M261.48 53.92 L262.36 55.05 L263.61 55.42 L264.23 56.92 L265.23 61.67 L266.48 66.67 L267.36 68.55 L268.23 69.42 L268.98 72.92 L269.86 78.8 L270.73 76.05 L271.73 71.05 L272.61 69.17 L273.36 64.17 L273.98 55.42 L274.48 47.92 L275.11 51.05 L275.73 55.42 L276.48 58.55 L277.36 57.92 L278.23 55.42 L278.98 55.17 L279.48 57.3 L280.23 61.67 L281.11 66.05 L281.98 69.17 L282.98 73.55 L283.98 78.55 L284.98 83 L286.4 77 L287.6 74 L289.1 72.1 L290.6 71.26 L292.1 70.5 L293.6 69.81 L295.1 69.2 L296.6 68.63 L298.1 68.11 L299.6 67.63 L301.1 67.16 L302.6 66.69 L304.1 66.18 L305.6 65.6 L307.1 64.9 L308.6 64.11 L310.1 63.24 L311.6 62.32 L313.1 61.37 L314.6 60.42 L316.1 59.49 L317.6 58.61 L319.1 57.77 L320.6 56.99 L322.1 56.25 L323.6 55.54 L325.1 54.86 L326.6 54.19 L328.1 53.53 L329.6 52.89 L331.1 52.25 L332.6 51.63 L334.1 51.01 L335.6 50.42 L337.1 49.83 L338.6 49.27 L340.1 48.71 L341.6 48.18 L343.1 47.65 L344.6 47.14 L346.1 46.65 L347.6 46.17 L349.1 45.71 L350.6 45.27 L352.1 44.88 L353.6 44.53 L355.1 44.21 L356.6 43.92 L358.1 43.68 L359.6 43.5 L361.1 43.38 L362.6 43.33 L364.1 43.35 L365.6 43.44 L367.1 43.59 L368.6 43.81 L370.1 44.07 L371.6 44.37 L373.1 44.66 L373.6 44.92"/>
</g>
<circle class="mm" cx="291.6" cy="70.6" r="2.85"/>
<rect class="mb" x="329.05" y="41.45" width="5.5" height="5.5"/>
<circle class="mr" cx="345" cy="47.2" r="2.85"/>
<circle class="mr" cx="362.4" cy="43.4" r="2.85"/>
<g clip-path="url(#c03)">
<path class="cv" d="M373.72 55.92 L374.6 57.05 L375.85 57.42 L376.47 58.92 L377.47 63.67 L378.72 68.67 L379.6 70.55 L380.47 71.42 L381.22 74.92 L382.1 80.8 L382.97 78.05 L383.97 73.05 L384.85 71.17 L385.6 66.17 L386.22 57.42 L386.72 49.92 L387.35 53.05 L387.97 57.42 L388.72 60.55 L389.6 59.92 L390.47 57.42 L391.22 57.17 L391.72 59.3 L392.47 63.67 L393.35 68.05 L394.22 71.17 L395.22 75.55 L396.22 80.55 L397.22 85 L398.6 79 L399.6 76 L401.1 74.12 L402.6 73.35 L404.1 72.8 L405.6 72.3 L407.1 71.85 L408.6 71.42 L410.1 71 L411.6 70.57 L413.1 70.13 L414.6 69.65 L416.1 69.12 L417.6 68.52 L419.1 67.82 L420.6 67.04 L422.1 66.2 L423.6 65.31 L425.1 64.4 L426.6 63.47 L428.1 62.56 L429.6 61.66 L431.1 60.8 L432.6 59.98 L434.1 59.19 L435.6 58.44 L437.1 57.71 L438.6 57.03 L440.1 56.37 L441.6 55.74 L443.1 55.13 L444.6 54.55 L446.1 53.98 L447.6 53.42 L449.1 52.88 L450.6 52.34 L452.1 51.81 L453.6 51.29 L455.1 50.77 L456.6 50.27 L458.1 49.78 L459.6 49.29 L461.1 48.81 L462.6 48.34 L464.1 47.87 L465.6 47.42 L467.1 46.97 L468.6 46.53 L470.1 46.13 L471.6 45.79 L473.1 45.54 L474.6 45.38 L476.1 45.31 L477.6 45.32 L479.1 45.4 L480.6 45.56 L482.1 45.82 L483.6 46.16 L485.1 46.54 L485.8 46.93"/>
</g>
<circle class="mm" cx="404" cy="67.2" r="2.85"/>
<circle class="mr" cx="457.4" cy="50.2" r="2.85"/>
<circle class="mr" cx="475" cy="45.2" r="2.85"/>
<g clip-path="url(#c04)">
<path class="cv" d="M485.88 50 L487.12 50.62 L488.38 51 L489.25 53.12 L490.25 55.62 L491.5 56.88 L492.5 56.5 L493.38 57.75 L494.38 58.5 L495.25 57.5 L496.25 56.5 L496.88 55 L497.75 51.25 L498.62 46.25 L499.38 42.75 L500 45.62 L500.62 48.12 L501.5 48.5 L502.38 46.88 L503.38 46 L504 47.5 L505 49 L506.5 50.62 L508.38 51.5 L510 51.5 L511.5 50.62 L513.38 49.75 L516.5 49.25 L520.25 48.75 L524 48.25 L524 48.25 L525.5 47.41 L527 46.6 L528.5 45.79 L530 44.97 L531.5 44.14 L533 43.31 L534.5 42.48 L536 41.65 L537.5 40.81 L539 39.96 L540.5 39.11 L542 38.25 L543.5 37.4 L545 36.57 L546.5 35.77 L548 35 L549.5 34.26 L551 33.57 L552.5 32.91 L554 32.28 L555.5 31.69 L557 31.13 L558.5 30.61 L560 30.14 L561.5 29.72 L563 29.36 L564.5 29.07 L566 28.88 L567.5 28.81 L569 28.86 L570.5 29.05 L572 29.36 L573.5 29.79 L575 30.33 L576.5 30.94 L578 31.61 L579.5 32.29 L581 32.99 L582.5 33.73 L584 34.53 L585.5 35.42 L587 36.4 L588.5 37.48 L590 38.63 L591.5 39.81 L593 41 L594.5 42.17 L596 43.27 L597.5 44.25 L598.21 45.1"/>
</g>
<circle class="mm" cx="513.89" cy="43.7" r="2.85"/>
<rect class="mb" x="551.61" y="28.69" width="5.5" height="5.5"/>
<circle class="mr" cx="567.71" cy="29.35" r="2.85"/>
<circle class="mr" cx="585.05" cy="34.93" r="2.85"/>
<g clip-path="url(#c10)">
<path class="cv" d="M37 127.16 L37.88 128.28 L39.12 128.66 L39.75 130.16 L40.75 134.91 L42 139.91 L42.88 141.78 L43.75 142.66 L44.5 146.16 L45.38 152.03 L46.25 149.28 L47.25 144.28 L48.12 142.41 L48.88 137.41 L49.5 128.66 L50 121.16 L50.62 124.29 L51.25 128.66 L52 131.78 L52.88 131.16 L53.75 128.66 L54.5 128.41 L55 130.53 L55.75 134.91 L56.62 139.28 L57.5 142.41 L58.5 146.78 L59.5 151.78 L60.5 155.6 L61.8 149.9 L63.3 147.95 L64.8 146.77 L66.3 145.9 L67.8 144.93 L69.3 143.98 L70.8 143.05 L72.3 142.14 L73.8 141.24 L75.3 140.34 L76.8 139.43 L78.3 138.5 L79.8 137.56 L81.3 136.63 L82.8 135.71 L84.3 134.82 L85.8 133.94 L87.3 133.07 L88.8 132.22 L90.3 131.4 L91.8 130.6 L93.3 129.83 L94.8 129.1 L96.3 128.4 L97.8 127.72 L99.3 127.06 L100.8 126.41 L102.3 125.78 L103.8 125.18 L105.3 124.6 L106.8 124.04 L108.3 123.52 L109.8 123.04 L111.3 122.58 L112.8 122.15 L114.3 121.75 L115.8 121.39 L117.3 121.06 L118.8 120.76 L120.3 120.5 L121.8 120.28 L123.3 120.08 L124.8 119.92 L126.3 119.8 L127.8 119.71 L129.3 119.67 L130.8 119.67 L132.3 119.71 L133.8 119.77 L135.3 119.85 L136.8 119.95 L138.3 120.07 L139.8 120.23 L141.3 120.43 L142.8 120.67 L144.3 120.97 L145.8 121.33 L147.3 121.72 L148.8 122.14 L149.6 122.54"/>
</g>
<circle class="mm" cx="67" cy="146.2" r="2.85"/>
<circle class="mr" cx="120.6" cy="120.4" r="2.85"/>
<circle class="mr" cx="138" cy="120" r="2.85"/>
<g clip-path="url(#c11)">
<path class="cv" d="M149.24 120.84 L150.12 121.97 L151.37 122.34 L151.99 123.84 L152.99 128.59 L154.24 133.59 L155.12 135.47 L155.99 136.34 L156.74 139.84 L157.62 145.72 L158.49 142.97 L159.49 137.97 L160.37 136.09 L161.12 131.09 L161.74 122.34 L162.24 114.84 L162.87 117.97 L163.49 122.34 L164.24 125.47 L165.12 124.84 L165.99 122.34 L166.74 122.09 L167.24 124.22 L167.99 128.59 L168.87 132.97 L169.74 136.09 L170.74 140.47 L171.74 145.47 L172.74 149.6 L174 145.27 L175.5 141.57 L177 140.34 L178.5 139.38 L180 138.53 L181.5 137.84 L183 137.22 L184.5 136.66 L186 136.11 L187.5 135.57 L189 135.03 L190.5 134.46 L192 133.85 L193.5 133.16 L195 132.39 L196.5 131.54 L198 130.64 L199.5 129.74 L201 128.86 L202.5 128.01 L204 127.2 L205.5 126.42 L207 125.67 L208.5 124.93 L210 124.21 L211.5 123.49 L213 122.79 L214.5 122.11 L216 121.44 L217.5 120.8 L219 120.18 L220.5 119.58 L222 119 L223.5 118.41 L225 117.84 L226.5 117.26 L228 116.69 L229.5 116.13 L231 115.58 L232.5 115.06 L234 114.55 L235.5 114.06 L237 113.59 L238.5 113.13 L240 112.7 L241.5 112.29 L243 111.9 L244.5 111.54 L246 111.22 L247.5 110.97 L249 110.79 L250.5 110.69 L252 110.64 L253.5 110.64 L255 110.7 L256.5 110.83 L258 111.04 L259.5 111.32 L261 111.63 L261.6 111.93"/>
</g>
<circle class="mm" cx="178.8" cy="125.8" r="2.85"/>
<circle class="mr" cx="232.6" cy="114.8" r="2.85"/>
<circle class="mr" cx="250" cy="110.6" r="2.85"/>
<g clip-path="url(#c12)">
<path class="cv" d="M261.48 123.52 L262.36 124.65 L263.61 125.02 L264.23 126.52 L265.23 131.27 L266.48 136.27 L267.36 138.15 L268.23 139.02 L268.98 142.52 L269.86 148.4 L270.73 145.65 L271.73 140.65 L272.61 138.77 L273.36 133.77 L273.98 125.02 L274.48 117.52 L275.11 120.65 L275.73 125.02 L276.48 128.15 L277.36 127.52 L278.23 125.02 L278.98 124.77 L279.48 126.9 L280.23 131.27 L281.11 135.65 L281.98 138.77 L282.98 143.15 L283.98 148.15 L284.98 151.52 L286.2 145.7 L287.7 142.13 L289.2 140.99 L290.7 140.21 L292.2 139.52 L293.7 138.98 L295.2 138.51 L296.7 138.1 L298.2 137.73 L299.7 137.36 L301.2 137 L302.7 136.6 L304.2 136.13 L305.7 135.56 L307.2 134.86 L308.7 134.06 L310.2 133.19 L311.7 132.31 L313.2 131.44 L314.7 130.58 L316.2 129.75 L317.7 128.92 L319.2 128.12 L320.7 127.33 L322.2 126.56 L323.7 125.82 L325.2 125.09 L326.7 124.37 L328.2 123.66 L329.7 122.96 L331.2 122.26 L332.7 121.57 L334.2 120.89 L335.7 120.23 L337.2 119.57 L338.7 118.91 L340.2 118.28 L341.7 117.66 L343.2 117.08 L344.7 116.54 L346.2 116.03 L347.7 115.55 L349.2 115.09 L350.7 114.65 L352.2 114.26 L353.7 113.9 L355.2 113.59 L356.7 113.31 L358.2 113.07 L359.7 112.88 L361.2 112.76 L362.7 112.7 L364.2 112.7 L365.7 112.75 L367.2 112.87 L368.7 113.07 L370.2 113.35 L371.7 113.68 L373.2 114 L373.6 114.29"/>
</g>
<path class="eb" d="M331.4 125V129.4 M330.2 129.4h2.4"/>
<circle class="mm" cx="291.4" cy="139.2" r="2.85"/>
<rect class="mb" x="328.65" y="122.25" width="5.5" height="5.5"/>
<circle class="mr" cx="345" cy="117" r="2.85"/>
<circle class="mr" cx="362.4" cy="113" r="2.85"/>
<g clip-path="url(#c13)">
<path class="cv" d="M373.72 121.14 L374.6 122.27 L375.85 122.64 L376.47 124.14 L377.47 128.89 L378.72 133.89 L379.6 135.77 L380.47 136.64 L381.22 140.14 L382.1 146.02 L382.97 143.27 L383.97 138.27 L384.85 136.39 L385.6 131.39 L386.22 122.64 L386.72 115.14 L387.35 118.27 L387.97 122.64 L388.72 125.77 L389.6 125.14 L390.47 122.64 L391.22 122.39 L391.72 124.52 L392.47 128.89 L393.35 133.27 L394.22 136.39 L395.22 140.77 L396.22 145.77 L397.22 149.6 L398.8 143.4 L400.3 141.03 L401.8 139.61 L403.3 138.54 L404.8 137.52 L406.3 136.54 L407.8 135.6 L409.3 134.66 L410.8 133.73 L412.3 132.8 L413.8 131.88 L415.3 130.95 L416.8 130.03 L418.3 129.13 L419.8 128.26 L421.3 127.42 L422.8 126.62 L424.3 125.86 L425.8 125.12 L427.3 124.4 L428.8 123.67 L430.3 122.95 L431.8 122.24 L433.3 121.56 L434.8 120.91 L436.3 120.3 L437.8 119.72 L439.3 119.16 L440.8 118.63 L442.3 118.1 L443.8 117.58 L445.3 117.09 L446.8 116.62 L448.3 116.19 L449.8 115.81 L451.3 115.46 L452.8 115.15 L454.3 114.87 L455.8 114.62 L457.3 114.39 L458.8 114.18 L460.3 114 L461.8 113.86 L463.3 113.75 L464.8 113.68 L466.3 113.66 L467.8 113.68 L469.3 113.72 L470.8 113.79 L472.3 113.89 L473.8 114.02 L475.3 114.2 L476.8 114.45 L478.3 114.76 L479.8 115.13 L481.3 115.55 L482.8 116 L484.3 116.5 L485.8 117.02"/>
</g>
<path class="em" d="M403.8 137.6V142.6 M402.6 142.6h2.4"/>
<circle class="mm" cx="403.8" cy="137.6" r="2.85"/>
<circle class="mr" cx="457" cy="114" r="2.85"/>
<circle class="mr" cx="474.6" cy="114" r="2.85"/>
<g clip-path="url(#c14)">
<path class="cv" d="M485.88 124.75 L487.12 125.75 L488.38 126.25 L489.25 128.75 L490.25 132.25 L491.5 134.12 L492.5 135 L493.38 136 L494.38 138.25 L495.25 137.25 L496.25 136 L496.88 132.88 L497.75 129.75 L498.62 123.5 L499.38 118.5 L500 122.25 L500.62 125.38 L501.5 125.75 L502.38 123.75 L503.38 123.25 L504 125.75 L505 128.25 L506.5 130.38 L508.38 132 L510.25 131 L512.12 130 L514 129.12 L517.75 127 L524 123.5 L524 124.44 L525.5 123.69 L527 122.95 L528.5 122.21 L530 121.48 L531.5 120.74 L533 120 L534.5 119.26 L536 118.52 L537.5 117.79 L539 117.08 L540.5 116.39 L542 115.73 L543.5 115.09 L545 114.47 L546.5 113.86 L548 113.25 L549.5 112.65 L551 112.07 L552.5 111.51 L554 110.97 L555.5 110.46 L557 109.98 L558.5 109.55 L560 109.17 L561.5 108.85 L563 108.59 L564.5 108.38 L566 108.23 L567.5 108.13 L569 108.11 L570.5 108.18 L572 108.35 L573.5 108.61 L575 108.95 L576.5 109.34 L578 109.78 L579.5 110.25 L581 110.76 L582.5 111.3 L584 111.88 L585.5 112.51 L587 113.24 L588.5 114.08 L590 115.05 L591.5 116.13 L593 117.29 L594.5 118.49 L596 119.66 L597.5 120.74 L598.21 121.68"/>
</g>
<circle class="mm" cx="516.49" cy="131.86" r="2.85"/>
<rect class="mb" x="553.8" y="114.36" width="5.5" height="5.5"/>
<circle class="mr" cx="569.71" cy="108.94" r="2.85"/>
<circle class="mr" cx="587.64" cy="113.32" r="2.85"/>
<g clip-path="url(#c20)">
<path class="cv" d="M37 179.38 L38.25 180.25 L39.12 181 L40 183.75 L41 186.88 L42.25 189 L43.25 189.75 L44.12 190.62 L45.38 193.12 L46.25 191.88 L47.25 190 L47.88 187.5 L48.75 183.75 L49.38 177.5 L50 173.12 L50.75 176.25 L51.38 179.75 L52.25 180.25 L53.12 178.5 L54.12 177.88 L54.75 180 L55.75 182.25 L57 184.38 L58.5 186.5 L60.38 185.62 L63.5 184 L68.5 181.25 L76 177.5 L76 178.57 L77.5 177.81 L79 177.05 L80.5 176.31 L82 175.58 L83.5 174.84 L85 174.11 L86.5 173.37 L88 172.63 L89.5 171.9 L91 171.17 L92.5 170.45 L94 169.75 L95.5 169.06 L97 168.38 L98.5 167.69 L100 167 L101.5 166.32 L103 165.68 L104.5 165.08 L106 164.55 L107.5 164.07 L109 163.67 L110.5 163.34 L112 163.1 L113.5 162.94 L115 162.86 L116.5 162.84 L118 162.85 L119.5 162.9 L121 163.03 L122.5 163.26 L124 163.58 L125.5 163.99 L127 164.45 L128.5 164.95 L130 165.48 L131.5 166.03 L133 166.63 L134.5 167.26 L136 167.95 L137.5 168.71 L139 169.53 L140.5 170.42 L142 171.37 L143.5 172.37 L145 173.37 L146.5 174.34 L148 175.19 L149.5 175.85 L149.52 176.29"/>
</g>
<circle class="mm" cx="66.9" cy="194" r="2.85"/>
<rect class="mb" x="104.15" y="161.25" width="5.5" height="5.5"/>
<circle class="mr" cx="120.48" cy="163.05" r="2.85"/>
<circle class="mr" cx="137.86" cy="169" r="2.85"/>
<g clip-path="url(#c21)">
<path class="cv" d="M149.24 197.36 L150.12 198.48 L151.37 198.86 L151.99 200.36 L152.99 205.11 L154.24 210.11 L155.12 211.98 L155.99 212.86 L156.74 216.36 L157.62 222.23 L158.49 219.48 L159.49 214.48 L160.37 212.61 L161.12 207.61 L161.74 198.86 L162.24 191.36 L162.87 194.48 L163.49 198.86 L164.24 201.98 L165.12 201.36 L165.99 198.86 L166.74 198.61 L167.24 200.73 L167.99 205.11 L168.87 209.48 L169.74 212.61 L170.74 216.98 L171.74 221.98 L172.74 225.43 L174.14 220.68 L175.64 217.36 L177.14 215.69 L178.64 214.48 L180.14 213.52 L181.64 212.75 L183.14 212.09 L184.64 211.54 L186.14 211.04 L187.64 210.57 L189.14 210.13 L190.64 209.66 L192.14 209.15 L193.64 208.56 L195.14 207.85 L196.64 207.03 L198.14 206.14 L199.64 205.21 L201.14 204.31 L202.64 203.44 L204.14 202.63 L205.64 201.86 L207.14 201.12 L208.64 200.4 L210.14 199.68 L211.64 198.96 L213.14 198.26 L214.64 197.59 L216.14 196.97 L217.64 196.4 L219.14 195.88 L220.64 195.39 L222.14 194.91 L223.64 194.43 L225.14 193.94 L226.64 193.44 L228.14 192.94 L229.64 192.42 L231.14 191.91 L232.64 191.4 L234.14 190.91 L235.64 190.43 L237.14 189.97 L238.64 189.53 L240.14 189.13 L241.64 188.77 L243.14 188.45 L244.64 188.18 L246.14 187.94 L247.64 187.74 L249.14 187.59 L250.64 187.49 L252.14 187.46 L253.64 187.49 L255.14 187.61 L256.64 187.81 L258.14 188.1 L259.64 188.44 L261.14 188.8 L261.52 189.12"/>
</g>
<circle class="mm" cx="181.05" cy="212.57" r="2.85"/>
<rect class="mb" x="218.54" y="193.39" width="5.5" height="5.5"/>
<circle class="mr" cx="234.62" cy="190.67" r="2.85"/>
<circle class="mr" cx="252.24" cy="187.81" r="2.85"/>
<g clip-path="url(#c22)">
<path class="cv" d="M261.5 182.25 L262.75 183.12 L263.75 184 L264.62 186.5 L265.62 190 L266.88 191.88 L267.88 192.75 L268.75 193.75 L270 196 L270.88 194.75 L271.88 192.75 L272.5 190.25 L273.38 186.5 L274 180.62 L274.62 176 L275.38 179.38 L276 182.88 L276.88 183.38 L277.75 181.5 L278.75 181 L279.38 183.12 L280.38 185.25 L281.62 187.5 L283.12 189.62 L285 188.75 L288.12 186.88 L292.5 184.38 L300 180.62 L300 181.6 L301.5 180.98 L303 180.37 L304.5 179.74 L306 179.08 L307.5 178.41 L309 177.72 L310.5 177.01 L312 176.28 L313.5 175.54 L315 174.8 L316.5 174.06 L318 173.32 L319.5 172.6 L321 171.9 L322.5 171.2 L324 170.52 L325.5 169.87 L327 169.24 L328.5 168.65 L330 168.1 L331.5 167.58 L333 167.1 L334.5 166.65 L336 166.25 L337.5 165.91 L339 165.65 L340.5 165.48 L342 165.39 L343.5 165.39 L345 165.46 L346.5 165.62 L348 165.88 L349.5 166.24 L351 166.68 L352.5 167.18 L354 167.71 L355.5 168.25 L357 168.8 L358.5 169.37 L360 169.98 L361.5 170.64 L363 171.39 L364.5 172.23 L366 173.19 L367.5 174.24 L369 175.34 L370.5 176.42 L372 177.39 L373.5 178.14 L373.52 178.62"/>
</g>
<circle class="mm" cx="292.81" cy="200.9" r="2.85"/>
<rect class="mb" x="330.3" y="166.49" width="5.5" height="5.5"/>
<circle class="mr" cx="346.38" cy="166.38" r="2.85"/>
<circle class="mr" cx="364.24" cy="171.86" r="2.85"/>
<g clip-path="url(#c23)">
<path class="cv" d="M373.75 179 L375 180.62 L376 181.5 L376.88 184 L377.88 187.5 L379.12 189.62 L380.12 190.38 L381 191.25 L382.25 193.5 L383.12 192.25 L384.12 190 L384.75 187.75 L385.62 184 L386.25 178.12 L386.88 173.75 L387.62 176.88 L388.25 180.25 L389.12 180.75 L390 179 L391 178.5 L391.62 180.62 L392.62 182.75 L393.88 185 L395.38 187.12 L397.25 186.25 L400.38 184.62 L405.12 181.88 L412 178.5 L412 180.4 L413.5 179.73 L415 179.06 L416.5 178.35 L418 177.61 L419.5 176.84 L421 176.06 L422.5 175.28 L424 174.5 L425.5 173.75 L427 173.03 L428.5 172.35 L430 171.7 L431.5 171.07 L433 170.45 L434.5 169.83 L436 169.2 L437.5 168.56 L439 167.94 L440.5 167.33 L442 166.75 L443.5 166.19 L445 165.66 L446.5 165.17 L448 164.71 L449.5 164.32 L451 164 L452.5 163.77 L454 163.62 L455.5 163.58 L457 163.64 L458.5 163.79 L460 164.03 L461.5 164.34 L463 164.7 L464.5 165.12 L466 165.59 L467.5 166.09 L469 166.63 L470.5 167.19 L472 167.8 L473.5 168.51 L475 169.37 L476.5 170.4 L478 171.57 L479.5 172.81 L481 174.04 L482.5 175.19 L484 176.2 L485.5 177.01 L485.76 177.59"/>
</g>
<circle class="mm" cx="403.14" cy="194.48" r="2.85"/>
<circle class="mr" cx="456.71" cy="164.24" r="2.85"/>
<circle class="mr" cx="474.33" cy="167.57" r="2.85"/>
<g clip-path="url(#c24)">
<path class="cv" d="M485.96 198.19 L486.84 199.31 L488.09 199.69 L488.71 201.19 L489.71 205.94 L490.96 210.94 L491.84 212.81 L492.71 213.69 L493.46 217.19 L494.34 223.06 L495.21 220.31 L496.21 215.31 L497.09 213.44 L497.84 208.44 L498.46 199.69 L498.96 192.19 L499.59 195.31 L500.21 199.69 L500.96 202.81 L501.84 202.19 L502.71 199.69 L503.46 199.44 L503.96 201.56 L504.71 205.94 L505.59 210.31 L506.46 213.44 L507.46 217.81 L508.46 222.81 L509.46 226.67 L511.12 221.46 L512.62 218.43 L514.12 217.49 L515.62 216.7 L517.12 215.84 L518.62 215.03 L520.12 214.27 L521.62 213.5 L523.12 212.72 L524.62 211.91 L526.12 211.07 L527.62 210.2 L529.12 209.31 L530.62 208.43 L532.12 207.56 L533.62 206.7 L535.12 205.85 L536.62 205.01 L538.12 204.19 L539.62 203.38 L541.12 202.57 L542.62 201.76 L544.12 200.97 L545.62 200.2 L547.12 199.45 L548.62 198.74 L550.12 198.07 L551.62 197.42 L553.12 196.79 L554.62 196.19 L556.12 195.62 L557.62 195.06 L559.12 194.53 L560.62 194.03 L562.12 193.55 L563.62 193.12 L565.12 192.72 L566.62 192.35 L568.12 192.03 L569.62 191.74 L571.12 191.47 L572.62 191.22 L574.12 190.99 L575.62 190.79 L577.12 190.62 L578.62 190.5 L580.12 190.41 L581.62 190.34 L583.12 190.3 L584.62 190.28 L586.12 190.29 L587.62 190.34 L589.12 190.46 L590.62 190.65 L592.12 190.92 L593.62 191.25 L595.12 191.64 L596.62 192.04 L598.12 192.4 L598.32 192.68"/>
</g>
<circle class="mm" cx="516.36" cy="208.8" r="2.85"/>
<rect class="mb" x="553.64" y="188.9" width="5.5" height="5.5"/>
<circle class="mr" cx="569.97" cy="191.65" r="2.85"/>
<circle class="mr" cx="587.36" cy="190.45" r="2.85"/>
<g clip-path="url(#c30)">
<path class="cv" d="M37 278 L38.25 279.12 L39.12 279.5 L39.75 281 L40.75 285.75 L42 290.5 L42.88 292.25 L43.75 293.25 L44.5 297.62 L45.38 302.25 L46.25 300.12 L47.25 294.75 L48.12 293 L48.88 287.62 L49.5 279.5 L50 273 L50.62 275.5 L51.25 279.5 L52 282.25 L52.88 281.75 L53.75 279.5 L54.5 279.25 L55 281.38 L55.75 285.75 L56.62 289.75 L57.5 293.25 L58.25 297 L59 301 L60.38 300.25 L62.25 298.75 L64.75 296.25 L68.25 293 L72.25 290.5 L76 288.38 L76 288.38 L77.5 287.48 L79 286.38 L80.5 285.28 L82 284.41 L83.5 283.69 L85 283.03 L86.5 282.46 L88 281.96 L89.5 281.48 L91 281.02 L92.5 280.56 L94 280.09 L95.5 279.61 L97 279.13 L98.5 278.66 L100 278.19 L101.5 277.73 L103 277.3 L104.5 276.87 L106 276.45 L107.5 276.01 L109 275.52 L110.5 274.98 L112 274.37 L113.5 273.71 L115 273.01 L116.5 272.33 L118 271.73 L119.5 271.24 L121 270.87 L122.5 270.58 L124 270.35 L125.5 270.19 L127 270.12 L128.5 270.16 L130 270.31 L131.5 270.55 L133 270.9 L134.5 271.34 L136 271.86 L137.5 272.44 L139 273.09 L140.5 273.81 L142 274.62 L143.5 275.5 L145 276.45 L146.5 277.41 L148 278.34 L148.81 279.19"/>
</g>
<circle class="mm" cx="68.1" cy="290" r="2.85"/>
<rect class="mb" x="105.35" y="270.11" width="5.5" height="5.5"/>
<circle class="mr" cx="121.9" cy="270.95" r="2.85"/>
<circle class="mr" cx="139.29" cy="273.1" r="2.85"/>
<g clip-path="url(#c31)">
<path class="cv" d="M149.25 261.88 L150.5 263 L151.38 263.38 L152 265 L153 269.75 L154.25 274.62 L155.12 276.5 L156 277.5 L156.75 281.88 L157.75 286.5 L158.62 284.38 L159.5 279 L160.38 277.25 L161.12 271.88 L161.75 263.5 L162.38 256.88 L163 259.38 L163.62 263.5 L164.38 266.25 L165.25 265.75 L166.12 263.5 L166.88 263.25 L167.38 265.25 L168.12 269.75 L169 273.75 L169.88 277.25 L170.62 281.25 L171.38 285.25 L172.75 284.25 L174.5 282.25 L177 279.75 L179.25 277.62 L183 275.25 L188 272.5 L188 272.5 L189.5 271.67 L191 270.69 L192.5 269.71 L194 268.86 L195.5 268.11 L197 267.39 L198.5 266.75 L200 266.18 L201.5 265.67 L203 265.2 L204.5 264.76 L206 264.34 L207.5 263.91 L209 263.48 L210.5 263.03 L212 262.58 L213.5 262.13 L215 261.71 L216.5 261.32 L218 260.96 L219.5 260.6 L221 260.2 L222.5 259.71 L224 259.12 L225.5 258.43 L227 257.69 L228.5 256.94 L230 256.22 L231.5 255.59 L233 255.07 L234.5 254.69 L236 254.43 L237.5 254.28 L239 254.22 L240.5 254.24 L242 254.35 L243.5 254.56 L245 254.88 L246.5 255.29 L248 255.78 L249.5 256.33 L251 256.95 L252.5 257.65 L254 258.42 L255.5 259.26 L257 260.14 L258.5 261.01 L260 261.8 L261.5 262.41 L261.52 262.81"/>
</g>
<circle class="mm" cx="178.9" cy="280.48" r="2.85"/>
<rect class="mb" x="216.39" y="254.63" width="5.5" height="5.5"/>
<circle class="mr" cx="232.71" cy="254.76" r="2.85"/>
<circle class="mr" cx="250.1" cy="257.86" r="2.85"/>
<g clip-path="url(#c32)">
<path class="cv" d="M261.48 272.07 L262.36 273.2 L263.61 273.57 L264.23 275.07 L265.23 279.82 L266.48 284.82 L267.36 286.7 L268.23 287.57 L268.98 291.07 L269.86 296.95 L270.73 294.2 L271.73 289.2 L272.61 287.32 L273.36 282.32 L273.98 273.57 L274.48 266.07 L275.11 269.2 L275.73 273.57 L276.48 276.7 L277.36 276.07 L278.23 273.57 L278.98 273.32 L279.48 275.45 L280.23 279.82 L281.11 284.2 L281.98 287.32 L282.98 291.7 L283.98 296.7 L284.98 300.71 L286.62 295.51 L288.12 292.64 L289.62 290.78 L291.12 289.35 L292.62 288.1 L294.12 287.02 L295.62 286.03 L297.12 285.12 L298.62 284.25 L300.12 283.38 L301.62 282.52 L303.12 281.66 L304.62 280.79 L306.12 279.92 L307.62 279.03 L309.12 278.15 L310.62 277.28 L312.12 276.43 L313.62 275.61 L315.12 274.84 L316.62 274.11 L318.12 273.42 L319.62 272.75 L321.12 272.09 L322.62 271.45 L324.12 270.81 L325.62 270.19 L327.12 269.58 L328.62 269 L330.12 268.44 L331.62 267.91 L333.12 267.43 L334.62 266.98 L336.12 266.59 L337.62 266.23 L339.12 265.92 L340.62 265.64 L342.12 265.39 L343.62 265.18 L345.12 264.99 L346.62 264.83 L348.12 264.68 L349.62 264.56 L351.12 264.45 L352.62 264.38 L354.12 264.34 L355.62 264.33 L357.12 264.35 L358.62 264.39 L360.12 264.46 L361.62 264.56 L363.12 264.72 L364.62 264.94 L366.12 265.22 L367.62 265.56 L369.12 265.96 L370.62 266.4 L372.12 266.88 L373.52 267.4"/>
</g>
<circle class="mm" cx="291.62" cy="287.86" r="2.85"/>
<circle class="mr" cx="344.71" cy="265.24" r="2.85"/>
<circle class="mr" cx="362.33" cy="264.76" r="2.85"/>
<g clip-path="url(#c33)">
<path class="cv" d="M373.72 296.67 L374.6 297.79 L375.85 298.17 L376.47 299.67 L377.47 304.42 L378.72 309.42 L379.6 311.29 L380.47 312.17 L381.22 315.67 L382.1 321.54 L382.97 318.79 L383.97 313.79 L384.85 311.92 L385.6 306.92 L386.22 298.17 L386.72 290.67 L387.35 293.79 L387.97 298.17 L388.72 301.29 L389.6 300.67 L390.47 298.17 L391.22 297.92 L391.72 300.04 L392.47 304.42 L393.35 308.79 L394.22 311.92 L395.22 316.29 L396.22 321.29 L397.22 325.71 L398.86 320.76 L400.36 317.89 L401.86 316.02 L403.36 314.57 L404.86 313.29 L406.36 312.15 L407.86 311.08 L409.36 310.08 L410.86 309.11 L412.36 308.15 L413.86 307.19 L415.36 306.23 L416.86 305.3 L418.36 304.41 L419.86 303.58 L421.36 302.81 L422.86 302.09 L424.36 301.38 L425.86 300.67 L427.36 299.96 L428.86 299.23 L430.36 298.5 L431.86 297.77 L433.36 297.06 L434.86 296.38 L436.36 295.74 L437.86 295.14 L439.36 294.58 L440.86 294.04 L442.36 293.53 L443.86 293.05 L445.36 292.59 L446.86 292.15 L448.36 291.74 L449.86 291.36 L451.36 291.01 L452.86 290.69 L454.36 290.4 L455.86 290.15 L457.36 289.93 L458.86 289.73 L460.36 289.56 L461.86 289.41 L463.36 289.28 L464.86 289.19 L466.36 289.13 L467.86 289.1 L469.36 289.1 L470.86 289.12 L472.36 289.19 L473.86 289.31 L475.36 289.51 L476.86 289.81 L478.36 290.2 L479.86 290.67 L481.36 291.22 L482.86 291.81 L484.36 292.45 L485.76 293.12"/>
</g>
<circle class="mr" cx="456.71" cy="290.24" r="2.85"/>
<circle class="mr" cx="474.33" cy="290" r="2.85"/>
<path class="fr" d="M36.4 4.15H598.8 M36.4 80.03H598.8 M36.4 155.9H598.8 M36.4 231.78H598.8 M36.4 307.65H486.56 M37 4.15V307.65"/>
<path class="fr" style="stroke-width:1;stroke-opacity:.72" d="M598.6 4.15V231.78"/>
<path class="fr fv" d="M149.24 4.15V307.65 M261.48 4.15V307.65 M373.72 4.15V307.65 M485.96 4.15V231.78"/>
<path class="fr" d="M485.96 231.78V307.65"/>
<text class="s t" transform="translate(42.6 11.4) rotate(.05) scale(1 0.96)">ID: 804277</text>
<text class="s t" text-anchor="end" transform="translate(138 76.5) rotate(.05) scale(1 0.96)">log(L<tspan class="i sb" dy="1.6">IR</tspan><tspan dy="-1.6">)=11.24</tspan></text>
<text class="s t" transform="translate(154.84 11.4) rotate(.05) scale(1 0.96)">ID: 805283</text>
<text class="s t" text-anchor="end" transform="translate(250.24 76.5) rotate(.05) scale(1 0.96)">log(L<tspan class="i sb" dy="1.6">IR</tspan><tspan dy="-1.6">)=11.1</tspan></text>
<text class="s t" transform="translate(267.08 11.4) rotate(.05) scale(1 0.96)">ID: 810944</text>
<text class="s t" text-anchor="end" transform="translate(362.48 76.5) rotate(.05) scale(1 0.96)">log(L<tspan class="i sb" dy="1.6">IR</tspan><tspan dy="-1.6">)=10.81</tspan></text>
<text class="s t" transform="translate(379.32 11.4) rotate(.05) scale(1 0.96)">ID: 812596</text>
<text class="s t" text-anchor="end" transform="translate(474.72 76.5) rotate(.05) scale(1 0.96)">log(L<tspan class="i sb" dy="1.6">IR</tspan><tspan dy="-1.6">)=10.73</tspan></text>
<text class="s t" transform="translate(491.56 11.4) rotate(.05) scale(1 0.96)">ID: 816998</text>
<text class="s t" text-anchor="end" transform="translate(586.96 76.5) rotate(.05) scale(1 0.96)">log(L<tspan class="i sb" dy="1.6">IR</tspan><tspan dy="-1.6">)=11.27</tspan></text>
<text class="s t" transform="translate(42.6 87.28) rotate(.05) scale(1 0.96)">ID: 818160</text>
<text class="s t" text-anchor="end" transform="translate(138 152.38) rotate(.05) scale(1 0.96)">log(L<tspan class="i sb" dy="1.6">IR</tspan><tspan dy="-1.6">)=10.86</tspan></text>
<text class="s t" transform="translate(154.84 87.28) rotate(.05) scale(1 0.96)">ID: 818453</text>
<text class="s t" text-anchor="end" transform="translate(250.24 152.38) rotate(.05) scale(1 0.96)">log(L<tspan class="i sb" dy="1.6">IR</tspan><tspan dy="-1.6">)=11.14</tspan></text>
<text class="s t" transform="translate(267.08 87.28) rotate(.05) scale(1 0.96)">ID: 819347</text>
<text class="s t" text-anchor="end" transform="translate(362.48 152.38) rotate(.05) scale(1 0.96)">log(L<tspan class="i sb" dy="1.6">IR</tspan><tspan dy="-1.6">)=11.05</tspan></text>
<text class="s t" transform="translate(379.32 87.28) rotate(.05) scale(1 0.96)">ID: 820454</text>
<text class="s t" text-anchor="end" transform="translate(474.72 152.38) rotate(.05) scale(1 0.96)">log(L<tspan class="i sb" dy="1.6">IR</tspan><tspan dy="-1.6">)=11.08</tspan></text>
<text class="s t" transform="translate(491.56 87.28) rotate(.05) scale(1 0.96)">ID: 825006</text>
<text class="s t" text-anchor="end" transform="translate(586.96 152.38) rotate(.05) scale(1 0.96)">log(L<tspan class="i sb" dy="1.6">IR</tspan><tspan dy="-1.6">)=11.18</tspan></text>
<text class="s t" transform="translate(42.6 163.15) rotate(.05) scale(1 0.96)">ID: 825904</text>
<text class="s t" text-anchor="end" transform="translate(138 228.25) rotate(.05) scale(1 0.96)">log(L<tspan class="i sb" dy="1.6">IR</tspan><tspan dy="-1.6">)=11.99</tspan></text>
<text class="s t" transform="translate(154.84 163.15) rotate(.05) scale(1 0.96)">ID: 827762</text>
<text class="s t" text-anchor="end" transform="translate(250.24 228.25) rotate(.05) scale(1 0.96)">log(L<tspan class="i sb" dy="1.6">IR</tspan><tspan dy="-1.6">)=11.1</tspan></text>
<text class="s t" transform="translate(267.08 163.15) rotate(.05) scale(1 0.96)">ID: 827818</text>
<text class="s t" text-anchor="end" transform="translate(362.48 228.25) rotate(.05) scale(1 0.96)">log(L<tspan class="i sb" dy="1.6">IR</tspan><tspan dy="-1.6">)=11.88</tspan></text>
<text class="s t" transform="translate(379.32 163.15) rotate(.05) scale(1 0.96)">ID: 833627</text>
<text class="s t" text-anchor="end" transform="translate(474.72 228.25) rotate(.05) scale(1 0.96)">log(L<tspan class="i sb" dy="1.6">IR</tspan><tspan dy="-1.6">)=11.97</tspan></text>
<text class="s t" transform="translate(491.56 163.15) rotate(.05) scale(1 0.96)">ID: 839646</text>
<text class="s t" text-anchor="end" transform="translate(586.96 228.25) rotate(.05) scale(1 0.96)">log(L<tspan class="i sb" dy="1.6">IR</tspan><tspan dy="-1.6">)=11.04</tspan></text>
<text class="s t" transform="translate(42.6 239.03) rotate(.05) scale(1 0.96)">ID: 845649</text>
<text class="s t" text-anchor="end" transform="translate(138 304.12) rotate(.05) scale(1 0.96)">log(L<tspan class="i sb" dy="1.6">IR</tspan><tspan dy="-1.6">)=10.83</tspan></text>
<text class="s t" transform="translate(154.84 239.03) rotate(.05) scale(1 0.96)">ID: 845945</text>
<text class="s t" text-anchor="end" transform="translate(250.24 304.12) rotate(.05) scale(1 0.96)">log(L<tspan class="i sb" dy="1.6">IR</tspan><tspan dy="-1.6">)=11.43</tspan></text>
<text class="s t" transform="translate(267.08 239.03) rotate(.05) scale(1 0.96)">ID: 848329</text>
<text class="s t" text-anchor="end" transform="translate(362.48 304.12) rotate(.05) scale(1 0.96)">log(L<tspan class="i sb" dy="1.6">IR</tspan><tspan dy="-1.6">)=11.13</tspan></text>
<text class="s t" transform="translate(379.32 239.03) rotate(.05) scale(1 0.96)">Stacked log(M)&gt;9.5</text>
<text class="s t" text-anchor="end" transform="translate(474.72 304.12) rotate(.05) scale(1 0.96)">log(L<tspan class="i sb" dy="1.6">IR</tspan><tspan dy="-1.6">)=10.18</tspan></text>
<text class="k" text-anchor="end" transform="translate(34.3 9.2) rotate(.05) scale(1.04 1)">10<tspan class="ks" dx="0.1" dy="-4.6">12</tspan></text>
<text class="k" text-anchor="end" transform="translate(34.3 35.49) rotate(.05) scale(1.04 1)">10<tspan class="ks" dx="0.1" dy="-4.6">11</tspan></text>
<text class="k" text-anchor="end" transform="translate(34.3 62.13) rotate(.05) scale(1.04 1)">10<tspan class="ks" dx="0.1" dy="-4.6">10</tspan></text>
<text class="k" text-anchor="end" transform="translate(34.3 85.08) rotate(.05) scale(1.04 1)">10<tspan class="ks" dx="0.1" dy="-4.6">12</tspan></text>
<text class="k" text-anchor="end" transform="translate(34.3 111.36) rotate(.05) scale(1.04 1)">10<tspan class="ks" dx="0.1" dy="-4.6">11</tspan></text>
<text class="k" text-anchor="end" transform="translate(34.3 138) rotate(.05) scale(1.04 1)">10<tspan class="ks" dx="0.1" dy="-4.6">10</tspan></text>
<text class="k" text-anchor="end" transform="translate(34.3 160.95) rotate(.05) scale(1.04 1)">10<tspan class="ks" dx="0.1" dy="-4.6">12</tspan></text>
<text class="k" text-anchor="end" transform="translate(34.3 187.24) rotate(.05) scale(1.04 1)">10<tspan class="ks" dx="0.1" dy="-4.6">11</tspan></text>
<text class="k" text-anchor="end" transform="translate(34.3 213.88) rotate(.05) scale(1.04 1)">10<tspan class="ks" dx="0.1" dy="-4.6">10</tspan></text>
<text class="k" text-anchor="end" transform="translate(34.3 236.83) rotate(.05) scale(1.04 1)">10<tspan class="ks" dx="0.1" dy="-4.6">12</tspan></text>
<text class="k" text-anchor="end" transform="translate(34.3 263.11) rotate(.05) scale(1.04 1)">10<tspan class="ks" dx="0.1" dy="-4.6">11</tspan></text>
<text class="k" text-anchor="end" transform="translate(34.3 289.75) rotate(.05) scale(1.04 1)">10<tspan class="ks" dx="0.1" dy="-4.6">10</tspan></text>
<text class="k" text-anchor="middle" transform="translate(45.36 318.5) rotate(.05) scale(1.04 1)">10<tspan class="ks" dx="-0.2" dy="-4.7">1</tspan></text>
<text class="k" text-anchor="middle" transform="translate(131.63 318.5) rotate(.05) scale(1.04 1)">10<tspan class="ks" dx="-0.2" dy="-4.7">2</tspan></text>
<text class="k" text-anchor="middle" transform="translate(157.6 318.5) rotate(.05) scale(1.04 1)">10<tspan class="ks" dx="-0.2" dy="-4.7">1</tspan></text>
<text class="k" text-anchor="middle" transform="translate(243.87 318.5) rotate(.05) scale(1.04 1)">10<tspan class="ks" dx="-0.2" dy="-4.7">2</tspan></text>
<text class="k" text-anchor="middle" transform="translate(269.84 318.5) rotate(.05) scale(1.04 1)">10<tspan class="ks" dx="-0.2" dy="-4.7">1</tspan></text>
<text class="k" text-anchor="middle" transform="translate(356.11 318.5) rotate(.05) scale(1.04 1)">10<tspan class="ks" dx="-0.2" dy="-4.7">2</tspan></text>
<text class="k" text-anchor="middle" transform="translate(382.08 318.5) rotate(.05) scale(1.04 1)">10<tspan class="ks" dx="-0.2" dy="-4.7">1</tspan></text>
<text class="k" text-anchor="middle" transform="translate(468.35 318.5) rotate(.05) scale(1.04 1)">10<tspan class="ks" dx="-0.2" dy="-4.7">2</tspan></text>
<text class="s ax" transform="translate(0 333.5) rotate(.03)"><tspan x="274.3">Rest</tspan><tspan class="j" font-size="10.2" x="301.6">λ</tspan><tspan x="310.6">[</tspan><tspan class="i" font-size="11.6" x="313.9">μ</tspan><tspan x="320.2">m</tspan><tspan x="331.2">]</tspan></text>
<text class="s ax" transform="translate(8.1 186.6) rotate(-89.95)"><tspan class="j" font-size="10.6" x="0">ν</tspan><tspan x="6.5">L</tspan><tspan class="j" font-size="7.4" x="12.5" dy="2.1">ν</tspan><tspan x="19.2" dy="-2.1">[</tspan><tspan x="23.6">L</tspan><tspan font-size="7.6" x="30.2" dy="1.5" stroke-width=".1">⊙</tspan><tspan x="36.3" dy="-1.5">]</tspan></text>
</svg></body></html>
